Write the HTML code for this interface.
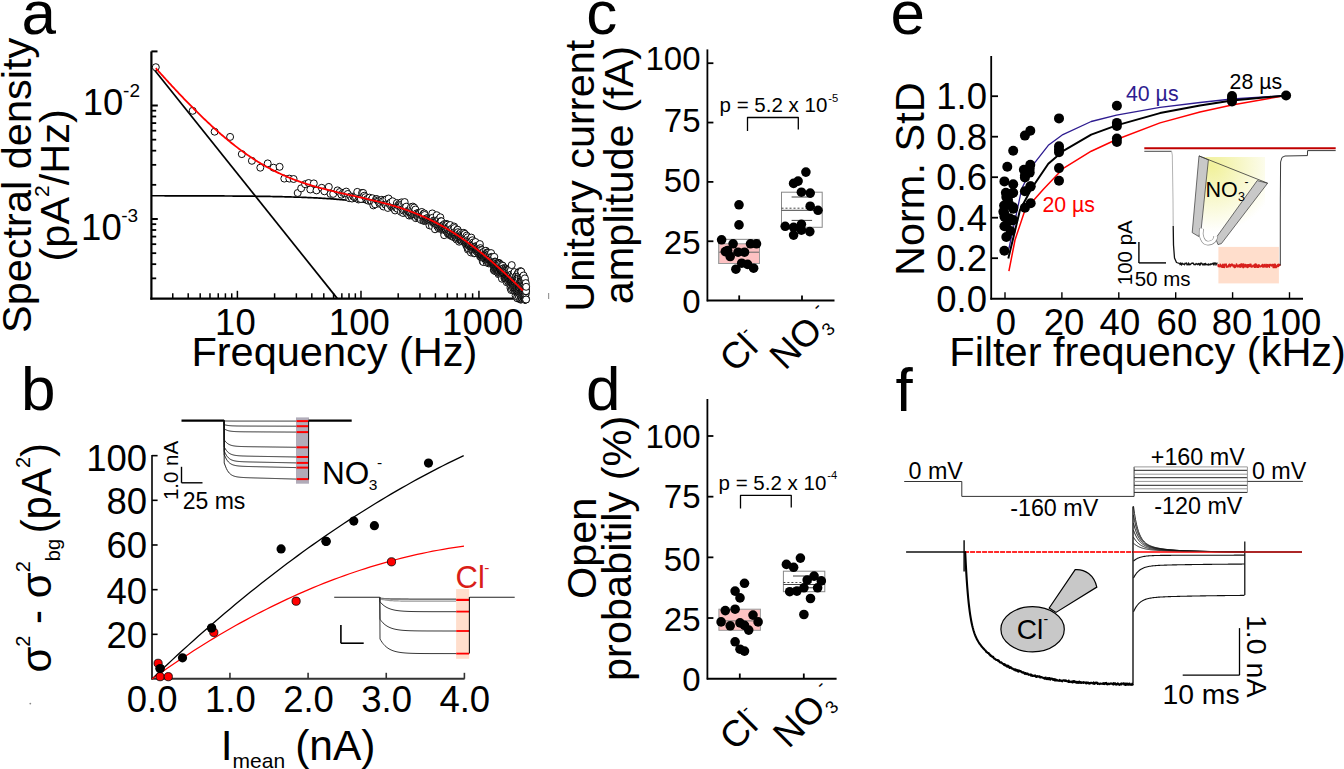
<!DOCTYPE html>
<html><head><meta charset="utf-8"><style>
html,body{margin:0;padding:0;background:#fff;}
svg{display:block;font-family:"Liberation Sans", sans-serif;}
</style></head><body>
<svg width="1344" height="769" viewBox="0 0 1344 769">
<rect width="1344" height="769" fill="#fff"/>
<text x="21.60" y="33.50" font-size="62" text-anchor="start" fill="#000">a</text>
<text x="21.00" y="410.00" font-size="62" text-anchor="start" fill="#000">b</text>
<text x="586.20" y="33.80" font-size="62" text-anchor="start" fill="#000">c</text>
<text x="586.00" y="410.00" font-size="62" text-anchor="start" fill="#000">d</text>
<text x="890.50" y="33.50" font-size="62" text-anchor="start" fill="#000">e</text>
<text x="895.50" y="410.50" font-size="62" text-anchor="start" fill="#000">f</text>
<line x1="151.40" y1="51.40" x2="151.40" y2="299.60" stroke="#000" stroke-width="2.2"/>
<line x1="150.30" y1="298.70" x2="514.50" y2="298.70" stroke="#000" stroke-width="2.2"/>
<line x1="151.40" y1="51.40" x2="157.50" y2="51.40" stroke="#000" stroke-width="2"/>
<line x1="151.40" y1="105.50" x2="157.80" y2="105.50" stroke="#000" stroke-width="2"/>
<line x1="151.40" y1="219.00" x2="157.80" y2="219.00" stroke="#000" stroke-width="2"/>
<line x1="151.40" y1="184.83" x2="156.20" y2="184.83" stroke="#000" stroke-width="1.8"/>
<line x1="151.40" y1="164.85" x2="156.20" y2="164.85" stroke="#000" stroke-width="1.8"/>
<line x1="151.40" y1="150.67" x2="156.20" y2="150.67" stroke="#000" stroke-width="1.8"/>
<line x1="151.40" y1="139.67" x2="156.20" y2="139.67" stroke="#000" stroke-width="1.8"/>
<line x1="151.40" y1="130.68" x2="156.20" y2="130.68" stroke="#000" stroke-width="1.8"/>
<line x1="151.40" y1="123.08" x2="156.20" y2="123.08" stroke="#000" stroke-width="1.8"/>
<line x1="151.40" y1="116.50" x2="156.20" y2="116.50" stroke="#000" stroke-width="1.8"/>
<line x1="151.40" y1="110.69" x2="156.20" y2="110.69" stroke="#000" stroke-width="1.8"/>
<line x1="151.40" y1="278.35" x2="156.20" y2="278.35" stroke="#000" stroke-width="1.8"/>
<line x1="151.40" y1="264.17" x2="156.20" y2="264.17" stroke="#000" stroke-width="1.8"/>
<line x1="151.40" y1="253.17" x2="156.20" y2="253.17" stroke="#000" stroke-width="1.8"/>
<line x1="151.40" y1="244.18" x2="156.20" y2="244.18" stroke="#000" stroke-width="1.8"/>
<line x1="151.40" y1="236.58" x2="156.20" y2="236.58" stroke="#000" stroke-width="1.8"/>
<line x1="151.40" y1="230.00" x2="156.20" y2="230.00" stroke="#000" stroke-width="1.8"/>
<line x1="151.40" y1="224.19" x2="156.20" y2="224.19" stroke="#000" stroke-width="1.8"/>
<line x1="172.76" y1="298.70" x2="172.76" y2="293.30" stroke="#000" stroke-width="1.5"/>
<line x1="188.21" y1="298.70" x2="188.21" y2="293.30" stroke="#000" stroke-width="1.5"/>
<line x1="200.19" y1="298.70" x2="200.19" y2="293.30" stroke="#000" stroke-width="1.5"/>
<line x1="209.97" y1="298.70" x2="209.97" y2="293.30" stroke="#000" stroke-width="1.5"/>
<line x1="218.25" y1="298.70" x2="218.25" y2="293.30" stroke="#000" stroke-width="1.5"/>
<line x1="225.41" y1="298.70" x2="225.41" y2="293.30" stroke="#000" stroke-width="1.5"/>
<line x1="231.74" y1="298.70" x2="231.74" y2="293.30" stroke="#000" stroke-width="1.5"/>
<line x1="274.60" y1="298.70" x2="274.60" y2="293.30" stroke="#000" stroke-width="1.5"/>
<line x1="296.36" y1="298.70" x2="296.36" y2="293.30" stroke="#000" stroke-width="1.5"/>
<line x1="311.81" y1="298.70" x2="311.81" y2="293.30" stroke="#000" stroke-width="1.5"/>
<line x1="323.79" y1="298.70" x2="323.79" y2="293.30" stroke="#000" stroke-width="1.5"/>
<line x1="333.57" y1="298.70" x2="333.57" y2="293.30" stroke="#000" stroke-width="1.5"/>
<line x1="341.85" y1="298.70" x2="341.85" y2="293.30" stroke="#000" stroke-width="1.5"/>
<line x1="349.01" y1="298.70" x2="349.01" y2="293.30" stroke="#000" stroke-width="1.5"/>
<line x1="355.34" y1="298.70" x2="355.34" y2="293.30" stroke="#000" stroke-width="1.5"/>
<line x1="398.20" y1="298.70" x2="398.20" y2="293.30" stroke="#000" stroke-width="1.5"/>
<line x1="419.96" y1="298.70" x2="419.96" y2="293.30" stroke="#000" stroke-width="1.5"/>
<line x1="435.41" y1="298.70" x2="435.41" y2="293.30" stroke="#000" stroke-width="1.5"/>
<line x1="447.39" y1="298.70" x2="447.39" y2="293.30" stroke="#000" stroke-width="1.5"/>
<line x1="457.17" y1="298.70" x2="457.17" y2="293.30" stroke="#000" stroke-width="1.5"/>
<line x1="465.45" y1="298.70" x2="465.45" y2="293.30" stroke="#000" stroke-width="1.5"/>
<line x1="472.61" y1="298.70" x2="472.61" y2="293.30" stroke="#000" stroke-width="1.5"/>
<line x1="237.39" y1="298.70" x2="237.39" y2="290.80" stroke="#000" stroke-width="1.5"/>
<line x1="360.99" y1="298.70" x2="360.99" y2="290.80" stroke="#000" stroke-width="1.5"/>
<line x1="478.94" y1="298.70" x2="478.94" y2="290.80" stroke="#000" stroke-width="1.5"/>
<text x="235.40" y="335.20" font-size="36.5" text-anchor="middle" fill="#000">10</text>
<text x="359.30" y="335.20" font-size="36.5" text-anchor="middle" fill="#000">100</text>
<text x="482.70" y="335.20" font-size="36.5" text-anchor="middle" fill="#000">1000</text>
<text x="191.40" y="365.80" font-size="41.5" text-anchor="start" fill="#000">Frequency (Hz)</text>
<text x="123.40" y="115.30" font-size="36.5" text-anchor="end" fill="#000">10</text>
<text x="123.10" y="96.90" font-size="19" text-anchor="start" fill="#000">-2</text>
<text x="121.70" y="240.30" font-size="36.5" text-anchor="end" fill="#000">10</text>
<text x="121.30" y="222.30" font-size="19" text-anchor="start" fill="#000">-3</text>
<text transform="translate(30.5,333) rotate(-90)" font-size="41.5">Spectral density</text>
<text transform="translate(69.3,261.5) rotate(-90)" font-size="41.5">(pA<tspan font-size="21" dy="-20.3">2</tspan><tspan dy="20.3">/Hz)</tspan></text>
<line x1="152.50" y1="67.50" x2="337.20" y2="298.40" stroke="#000" stroke-width="1.7"/>
<polyline points="152.00,195.76 153.00,195.76 154.00,195.76 155.00,195.76 156.00,195.76 157.00,195.76 158.00,195.77 159.00,195.77 160.00,195.77 161.00,195.77 162.00,195.77 163.00,195.77 164.00,195.77 165.00,195.78 166.00,195.78 167.00,195.78 168.00,195.78 169.00,195.78 170.00,195.78 171.00,195.78 172.00,195.79 173.00,195.79 174.00,195.79 175.00,195.79 176.00,195.79 177.00,195.80 178.00,195.80 179.00,195.80 180.00,195.80 181.00,195.80 182.00,195.81 183.00,195.81 184.00,195.81 185.00,195.81 186.00,195.82 187.00,195.82 188.00,195.82 189.00,195.82 190.00,195.83 191.00,195.83 192.00,195.83 193.00,195.84 194.00,195.84 195.00,195.84 196.00,195.84 197.00,195.85 198.00,195.85 199.00,195.85 200.00,195.86 201.00,195.86 202.00,195.87 203.00,195.87 204.00,195.87 205.00,195.88 206.00,195.88 207.00,195.88 208.00,195.89 209.00,195.89 210.00,195.90 211.00,195.90 212.00,195.91 213.00,195.91 214.00,195.92 215.00,195.92 216.00,195.93 217.00,195.93 218.00,195.94 219.00,195.94 220.00,195.95 221.00,195.95 222.00,195.96 223.00,195.96 224.00,195.97 225.00,195.98 226.00,195.98 227.00,195.99 228.00,196.00 229.00,196.00 230.00,196.01 231.00,196.02 232.00,196.02 233.00,196.03 234.00,196.04 235.00,196.05 236.00,196.05 237.00,196.06 238.00,196.07 239.00,196.08 240.00,196.09 241.00,196.10 242.00,196.11 243.00,196.12 244.00,196.12 245.00,196.13 246.00,196.14 247.00,196.16 248.00,196.17 249.00,196.18 250.00,196.19 251.00,196.20 252.00,196.21 253.00,196.22 254.00,196.23 255.00,196.25 256.00,196.26 257.00,196.27 258.00,196.29 259.00,196.30 260.00,196.31 261.00,196.33 262.00,196.34 263.00,196.36 264.00,196.37 265.00,196.39 266.00,196.40 267.00,196.42 268.00,196.44 269.00,196.45 270.00,196.47 271.00,196.49 272.00,196.51 273.00,196.53 274.00,196.55 275.00,196.57 276.00,196.59 277.00,196.61 278.00,196.63 279.00,196.65 280.00,196.67 281.00,196.69 282.00,196.72 283.00,196.74 284.00,196.76 285.00,196.79 286.00,196.82 287.00,196.84 288.00,196.87 289.00,196.89 290.00,196.92 291.00,196.95 292.00,196.98 293.00,197.01 294.00,197.04 295.00,197.07 296.00,197.10 297.00,197.14 298.00,197.17 299.00,197.20 300.00,197.24 301.00,197.27 302.00,197.31 303.00,197.35 304.00,197.39 305.00,197.43 306.00,197.47 307.00,197.51 308.00,197.55 309.00,197.59 310.00,197.64 311.00,197.68 312.00,197.73 313.00,197.77 314.00,197.82 315.00,197.87 316.00,197.92 317.00,197.97 318.00,198.02 319.00,198.08 320.00,198.13 321.00,198.19 322.00,198.25 323.00,198.31 324.00,198.37 325.00,198.43 326.00,198.49 327.00,198.55 328.00,198.62 329.00,198.69 330.00,198.76 331.00,198.83 332.00,198.90 333.00,198.97 334.00,199.05 335.00,199.12 336.00,199.20 337.00,199.28 338.00,199.36 339.00,199.45 340.00,199.53 341.00,199.62 342.00,199.71 343.00,199.80 344.00,199.89 345.00,199.99 346.00,200.09 347.00,200.19 348.00,200.29 349.00,200.39 350.00,200.50 351.00,200.60 352.00,200.72 353.00,200.83 354.00,200.94 355.00,201.06 356.00,201.18 357.00,201.31 358.00,201.43 359.00,201.56 360.00,201.69 361.00,201.82 362.00,201.96 363.00,202.10 364.00,202.24 365.00,202.39 366.00,202.54 367.00,202.69 368.00,202.84 369.00,203.00 370.00,203.16 371.00,203.32 372.00,203.49 373.00,203.66 374.00,203.84 375.00,204.01 376.00,204.20 377.00,204.38 378.00,204.57 379.00,204.76 380.00,204.96 381.00,205.16 382.00,205.36 383.00,205.57 384.00,205.78 385.00,206.00 386.00,206.22 387.00,206.44 388.00,206.67 389.00,206.90 390.00,207.14 391.00,207.38 392.00,207.63 393.00,207.88 394.00,208.14 395.00,208.40 396.00,208.66 397.00,208.93 398.00,209.21 399.00,209.49 400.00,209.77 401.00,210.06 402.00,210.36 403.00,210.66 404.00,210.96 405.00,211.27 406.00,211.59 407.00,211.91 408.00,212.24 409.00,212.57 410.00,212.91 411.00,213.25 412.00,213.60 413.00,213.96 414.00,214.32 415.00,214.69 416.00,215.06 417.00,215.44 418.00,215.83 419.00,216.22 420.00,216.61 421.00,217.02 422.00,217.43 423.00,217.84 424.00,218.26 425.00,218.69 426.00,219.13 427.00,219.57 428.00,220.02 429.00,220.47 430.00,220.93 431.00,221.40 432.00,221.87 433.00,222.35 434.00,222.84 435.00,223.33 436.00,223.83 437.00,224.34 438.00,224.85 439.00,225.37 440.00,225.90 441.00,226.43 442.00,226.97 443.00,227.52 444.00,228.08 445.00,228.64 446.00,229.20 447.00,229.78 448.00,230.36 449.00,230.95 450.00,231.54 451.00,232.15 452.00,232.75 453.00,233.37 454.00,233.99 455.00,234.62 456.00,235.26 457.00,235.90 458.00,236.55 459.00,237.20 460.00,237.87 461.00,238.53 462.00,239.21 463.00,239.89 464.00,240.58 465.00,241.28 466.00,241.98 467.00,242.69 468.00,243.40 469.00,244.12 470.00,244.85 471.00,245.58 472.00,246.32 473.00,247.07 474.00,247.82 475.00,248.58 476.00,249.35 477.00,250.12 478.00,250.90 479.00,251.68 480.00,252.47 481.00,253.26 482.00,254.06 483.00,254.87 484.00,255.68 485.00,256.50 486.00,257.32 487.00,258.15 488.00,258.99 489.00,259.83 490.00,260.67 491.00,261.52 492.00,262.38 493.00,263.24 494.00,264.11 495.00,264.98 496.00,265.86 497.00,266.74 498.00,267.62 499.00,268.51 500.00,269.41 501.00,270.31 502.00,271.22 503.00,272.13 504.00,273.04 505.00,273.96 506.00,274.88 507.00,275.81 508.00,276.74 509.00,277.68 510.00,278.62 511.00,279.57 512.00,280.52 513.00,281.47 514.00,282.43 515.00,283.39 516.00,284.35 517.00,285.32 518.00,286.29 519.00,287.27 520.00,288.25 521.00,289.23 522.00,290.21" fill="none" stroke="#000" stroke-width="1.7" stroke-linejoin="round"/>
<g fill="#fff" stroke="#000" stroke-width="0.95">
<circle cx="155.80" cy="67.20" r="3.5"/>
<circle cx="192.70" cy="110.80" r="3.5"/>
<circle cx="214.60" cy="131.70" r="3.5"/>
<circle cx="230.10" cy="136.90" r="3.5"/>
<circle cx="241.80" cy="154.10" r="3.5"/>
<circle cx="251.90" cy="160.80" r="3.5"/>
<circle cx="260.30" cy="167.70" r="3.5"/>
<circle cx="267.70" cy="163.40" r="3.5"/>
<circle cx="273.50" cy="167.70" r="3.5"/>
<circle cx="279.60" cy="166.80" r="3.5"/>
<circle cx="284.30" cy="178.60" r="3.5"/>
<circle cx="289.30" cy="178.60" r="3.5"/>
<circle cx="293.60" cy="179.00" r="3.5"/>
<circle cx="297.70" cy="193.00" r="3.5"/>
<circle cx="301.20" cy="188.30" r="3.5"/>
<circle cx="305.10" cy="184.20" r="3.5"/>
<circle cx="308.60" cy="183.00" r="3.5"/>
<circle cx="310.30" cy="189.50" r="3.5"/>
<circle cx="313.80" cy="183.40" r="3.5"/>
<circle cx="316.50" cy="190.40" r="3.5"/>
<circle cx="321.70" cy="187.80" r="3.5"/>
<circle cx="324.40" cy="191.30" r="3.5"/>
<circle cx="328.80" cy="186.90" r="3.5"/>
<circle cx="330.50" cy="193.90" r="3.5"/>
<circle cx="333.20" cy="193.90" r="3.5"/>
<circle cx="337.50" cy="190.40" r="3.5"/>
<circle cx="339.71" cy="192.05" r="3.5"/>
<circle cx="341.42" cy="194.67" r="3.5"/>
<circle cx="343.07" cy="192.90" r="3.5"/>
<circle cx="344.67" cy="193.00" r="3.5"/>
<circle cx="346.23" cy="191.57" r="3.5"/>
<circle cx="347.74" cy="193.98" r="3.5"/>
<circle cx="349.21" cy="198.15" r="3.5"/>
<circle cx="350.64" cy="196.48" r="3.5"/>
<circle cx="352.03" cy="198.56" r="3.5"/>
<circle cx="353.39" cy="196.58" r="3.5"/>
<circle cx="354.72" cy="197.29" r="3.5"/>
<circle cx="356.01" cy="196.97" r="3.5"/>
<circle cx="357.28" cy="191.88" r="3.5"/>
<circle cx="358.51" cy="199.47" r="3.5"/>
<circle cx="359.72" cy="198.73" r="3.5"/>
<circle cx="360.90" cy="198.97" r="3.5"/>
<circle cx="362.05" cy="192.88" r="3.5"/>
<circle cx="363.18" cy="192.98" r="3.5"/>
<circle cx="364.29" cy="195.71" r="3.5"/>
<circle cx="365.37" cy="197.18" r="3.5"/>
<circle cx="366.43" cy="199.66" r="3.5"/>
<circle cx="367.48" cy="198.89" r="3.5"/>
<circle cx="368.50" cy="200.77" r="3.5"/>
<circle cx="369.50" cy="197.63" r="3.5"/>
<circle cx="370.49" cy="200.62" r="3.5"/>
<circle cx="371.46" cy="201.09" r="3.5"/>
<circle cx="372.41" cy="198.26" r="3.5"/>
<circle cx="373.34" cy="205.38" r="3.5"/>
<circle cx="374.26" cy="202.24" r="3.5"/>
<circle cx="375.16" cy="204.32" r="3.5"/>
<circle cx="376.05" cy="199.26" r="3.5"/>
<circle cx="376.92" cy="199.13" r="3.5"/>
<circle cx="377.78" cy="200.50" r="3.5"/>
<circle cx="378.62" cy="201.40" r="3.5"/>
<circle cx="379.46" cy="203.75" r="3.5"/>
<circle cx="380.27" cy="202.85" r="3.5"/>
<circle cx="381.08" cy="201.04" r="3.5"/>
<circle cx="381.88" cy="199.77" r="3.5"/>
<circle cx="382.66" cy="201.24" r="3.5"/>
<circle cx="383.43" cy="206.49" r="3.5"/>
<circle cx="384.19" cy="200.81" r="3.5"/>
<circle cx="384.95" cy="204.06" r="3.5"/>
<circle cx="385.69" cy="204.79" r="3.5"/>
<circle cx="386.42" cy="199.43" r="3.5"/>
<circle cx="387.14" cy="204.09" r="3.5"/>
<circle cx="387.85" cy="207.94" r="3.5"/>
<circle cx="388.55" cy="198.50" r="3.5"/>
<circle cx="389.24" cy="203.61" r="3.5"/>
<circle cx="389.93" cy="204.43" r="3.5"/>
<circle cx="390.60" cy="202.56" r="3.5"/>
<circle cx="391.27" cy="206.56" r="3.5"/>
<circle cx="391.93" cy="205.13" r="3.5"/>
<circle cx="392.58" cy="201.26" r="3.5"/>
<circle cx="393.22" cy="208.09" r="3.5"/>
<circle cx="393.86" cy="207.82" r="3.5"/>
<circle cx="394.48" cy="208.81" r="3.5"/>
<circle cx="395.10" cy="210.44" r="3.5"/>
<circle cx="395.72" cy="207.50" r="3.5"/>
<circle cx="396.32" cy="206.98" r="3.5"/>
<circle cx="396.92" cy="203.05" r="3.5"/>
<circle cx="397.52" cy="208.79" r="3.5"/>
<circle cx="398.10" cy="205.41" r="3.5"/>
<circle cx="398.68" cy="206.06" r="3.5"/>
<circle cx="399.26" cy="203.89" r="3.5"/>
<circle cx="399.83" cy="204.93" r="3.5"/>
<circle cx="400.39" cy="206.38" r="3.5"/>
<circle cx="400.94" cy="211.84" r="3.5"/>
<circle cx="401.49" cy="202.39" r="3.5"/>
<circle cx="402.04" cy="204.24" r="3.5"/>
<circle cx="402.58" cy="209.34" r="3.5"/>
<circle cx="403.11" cy="213.01" r="3.5"/>
<circle cx="403.64" cy="210.68" r="3.5"/>
<circle cx="404.17" cy="203.67" r="3.5"/>
<circle cx="404.68" cy="202.06" r="3.5"/>
<circle cx="405.20" cy="210.57" r="3.5"/>
<circle cx="405.71" cy="207.58" r="3.5"/>
<circle cx="406.21" cy="206.64" r="3.5"/>
<circle cx="406.71" cy="212.90" r="3.5"/>
<circle cx="407.21" cy="213.44" r="3.5"/>
<circle cx="407.70" cy="210.87" r="3.5"/>
<circle cx="408.18" cy="211.30" r="3.5"/>
<circle cx="408.66" cy="212.03" r="3.5"/>
<circle cx="409.14" cy="215.56" r="3.5"/>
<circle cx="409.61" cy="212.91" r="3.5"/>
<circle cx="410.08" cy="212.79" r="3.5"/>
<circle cx="410.55" cy="213.05" r="3.5"/>
<circle cx="411.01" cy="207.08" r="3.5"/>
<circle cx="411.46" cy="215.52" r="3.5"/>
<circle cx="411.92" cy="214.74" r="3.5"/>
<circle cx="412.37" cy="213.68" r="3.5"/>
<circle cx="412.81" cy="206.59" r="3.5"/>
<circle cx="413.25" cy="210.65" r="3.5"/>
<circle cx="413.69" cy="215.10" r="3.5"/>
<circle cx="414.13" cy="207.57" r="3.5"/>
<circle cx="414.56" cy="212.46" r="3.5"/>
<circle cx="414.98" cy="216.12" r="3.5"/>
<circle cx="415.41" cy="209.53" r="3.5"/>
<circle cx="415.83" cy="218.17" r="3.5"/>
<circle cx="416.25" cy="215.27" r="3.5"/>
<circle cx="416.66" cy="213.40" r="3.5"/>
<circle cx="417.07" cy="214.94" r="3.5"/>
<circle cx="417.48" cy="216.05" r="3.5"/>
<circle cx="417.89" cy="214.68" r="3.5"/>
<circle cx="418.29" cy="217.82" r="3.5"/>
<circle cx="418.69" cy="212.75" r="3.5"/>
<circle cx="419.08" cy="213.63" r="3.5"/>
<circle cx="419.48" cy="218.02" r="3.5"/>
<circle cx="419.87" cy="215.24" r="3.5"/>
<circle cx="420.26" cy="212.77" r="3.5"/>
<circle cx="420.64" cy="218.23" r="3.5"/>
<circle cx="421.02" cy="219.90" r="3.5"/>
<circle cx="421.40" cy="214.52" r="3.5"/>
<circle cx="421.78" cy="211.97" r="3.5"/>
<circle cx="422.15" cy="215.75" r="3.5"/>
<circle cx="422.52" cy="215.87" r="3.5"/>
<circle cx="422.89" cy="215.60" r="3.5"/>
<circle cx="423.26" cy="220.70" r="3.5"/>
<circle cx="423.62" cy="213.81" r="3.5"/>
<circle cx="423.98" cy="220.60" r="3.5"/>
<circle cx="424.34" cy="213.43" r="3.5"/>
<circle cx="424.70" cy="214.98" r="3.5"/>
<circle cx="425.05" cy="219.26" r="3.5"/>
<circle cx="425.41" cy="220.86" r="3.5"/>
<circle cx="425.76" cy="220.23" r="3.5"/>
<circle cx="426.10" cy="218.90" r="3.5"/>
<circle cx="426.45" cy="218.47" r="3.5"/>
<circle cx="426.79" cy="218.66" r="3.5"/>
<circle cx="427.13" cy="220.05" r="3.5"/>
<circle cx="427.47" cy="218.02" r="3.5"/>
<circle cx="427.81" cy="219.50" r="3.5"/>
<circle cx="428.14" cy="220.51" r="3.5"/>
<circle cx="428.48" cy="219.01" r="3.5"/>
<circle cx="428.81" cy="221.38" r="3.5"/>
<circle cx="429.13" cy="220.96" r="3.5"/>
<circle cx="429.46" cy="225.31" r="3.5"/>
<circle cx="429.78" cy="220.57" r="3.5"/>
<circle cx="430.11" cy="218.54" r="3.5"/>
<circle cx="430.43" cy="218.86" r="3.5"/>
<circle cx="430.75" cy="220.06" r="3.5"/>
<circle cx="431.06" cy="222.93" r="3.5"/>
<circle cx="431.38" cy="219.43" r="3.5"/>
<circle cx="431.69" cy="221.68" r="3.5"/>
<circle cx="432.00" cy="226.04" r="3.5"/>
<circle cx="432.31" cy="213.43" r="3.5"/>
<circle cx="432.62" cy="217.76" r="3.5"/>
<circle cx="432.92" cy="221.88" r="3.5"/>
<circle cx="433.23" cy="222.48" r="3.5"/>
<circle cx="433.53" cy="222.16" r="3.5"/>
<circle cx="433.83" cy="220.37" r="3.5"/>
<circle cx="434.13" cy="223.68" r="3.5"/>
<circle cx="434.43" cy="222.75" r="3.5"/>
<circle cx="434.72" cy="220.56" r="3.5"/>
<circle cx="435.02" cy="229.28" r="3.5"/>
<circle cx="435.31" cy="223.41" r="3.5"/>
<circle cx="435.60" cy="220.92" r="3.5"/>
<circle cx="435.89" cy="222.39" r="3.5"/>
<circle cx="436.18" cy="222.17" r="3.5"/>
<circle cx="436.47" cy="222.80" r="3.5"/>
<circle cx="436.75" cy="215.21" r="3.5"/>
<circle cx="437.03" cy="221.86" r="3.5"/>
<circle cx="437.31" cy="226.35" r="3.5"/>
<circle cx="437.60" cy="220.18" r="3.5"/>
<circle cx="437.87" cy="223.53" r="3.5"/>
<circle cx="438.15" cy="226.63" r="3.5"/>
<circle cx="438.43" cy="226.50" r="3.5"/>
<circle cx="438.70" cy="228.48" r="3.5"/>
<circle cx="438.98" cy="219.37" r="3.5"/>
<circle cx="439.25" cy="223.43" r="3.5"/>
<circle cx="439.52" cy="223.61" r="3.5"/>
<circle cx="439.79" cy="226.55" r="3.5"/>
<circle cx="440.05" cy="228.06" r="3.5"/>
<circle cx="440.32" cy="217.26" r="3.5"/>
<circle cx="440.59" cy="228.34" r="3.5"/>
<circle cx="440.85" cy="221.13" r="3.5"/>
<circle cx="441.11" cy="227.45" r="3.5"/>
<circle cx="441.37" cy="221.29" r="3.5"/>
<circle cx="441.63" cy="226.27" r="3.5"/>
<circle cx="441.89" cy="229.37" r="3.5"/>
<circle cx="442.15" cy="225.61" r="3.5"/>
<circle cx="442.41" cy="226.74" r="3.5"/>
<circle cx="442.66" cy="228.65" r="3.5"/>
<circle cx="442.91" cy="226.89" r="3.5"/>
<circle cx="443.17" cy="226.36" r="3.5"/>
<circle cx="443.42" cy="231.21" r="3.5"/>
<circle cx="443.67" cy="229.94" r="3.5"/>
<circle cx="443.92" cy="226.19" r="3.5"/>
<circle cx="444.17" cy="235.15" r="3.5"/>
<circle cx="444.41" cy="224.00" r="3.5"/>
<circle cx="444.66" cy="230.12" r="3.5"/>
<circle cx="444.90" cy="226.84" r="3.5"/>
<circle cx="445.15" cy="228.13" r="3.5"/>
<circle cx="445.39" cy="229.93" r="3.5"/>
<circle cx="445.63" cy="228.67" r="3.5"/>
<circle cx="445.87" cy="230.02" r="3.5"/>
<circle cx="446.11" cy="223.88" r="3.5"/>
<circle cx="446.35" cy="224.07" r="3.5"/>
<circle cx="446.58" cy="230.37" r="3.5"/>
<circle cx="446.82" cy="225.93" r="3.5"/>
<circle cx="447.05" cy="225.89" r="3.5"/>
<circle cx="447.29" cy="224.74" r="3.5"/>
<circle cx="447.52" cy="232.81" r="3.5"/>
<circle cx="447.75" cy="231.44" r="3.5"/>
<circle cx="447.98" cy="233.69" r="3.5"/>
<circle cx="448.21" cy="226.83" r="3.5"/>
<circle cx="448.44" cy="229.69" r="3.5"/>
<circle cx="448.67" cy="226.52" r="3.5"/>
<circle cx="448.90" cy="232.19" r="3.5"/>
<circle cx="449.12" cy="234.71" r="3.5"/>
<circle cx="449.35" cy="227.65" r="3.5"/>
<circle cx="449.57" cy="234.90" r="3.5"/>
<circle cx="449.80" cy="233.37" r="3.5"/>
<circle cx="450.02" cy="230.13" r="3.5"/>
<circle cx="450.24" cy="225.06" r="3.5"/>
<circle cx="450.46" cy="234.99" r="3.5"/>
<circle cx="450.68" cy="230.77" r="3.5"/>
<circle cx="450.90" cy="229.43" r="3.5"/>
<circle cx="451.12" cy="232.48" r="3.5"/>
<circle cx="451.33" cy="232.64" r="3.5"/>
<circle cx="451.55" cy="235.93" r="3.5"/>
<circle cx="451.76" cy="228.76" r="3.5"/>
<circle cx="451.98" cy="235.15" r="3.5"/>
<circle cx="452.19" cy="236.30" r="3.5"/>
<circle cx="452.40" cy="236.33" r="3.5"/>
<circle cx="452.62" cy="231.73" r="3.5"/>
<circle cx="452.83" cy="230.22" r="3.5"/>
<circle cx="453.04" cy="235.47" r="3.5"/>
<circle cx="453.25" cy="232.98" r="3.5"/>
<circle cx="453.46" cy="233.14" r="3.5"/>
<circle cx="453.66" cy="237.04" r="3.5"/>
<circle cx="453.87" cy="232.28" r="3.5"/>
<circle cx="454.08" cy="226.51" r="3.5"/>
<circle cx="454.28" cy="232.18" r="3.5"/>
<circle cx="454.49" cy="228.06" r="3.5"/>
<circle cx="454.69" cy="235.94" r="3.5"/>
<circle cx="454.89" cy="234.61" r="3.5"/>
<circle cx="455.09" cy="232.05" r="3.5"/>
<circle cx="455.30" cy="233.92" r="3.5"/>
<circle cx="455.50" cy="236.50" r="3.5"/>
<circle cx="455.70" cy="234.44" r="3.5"/>
<circle cx="455.90" cy="238.19" r="3.5"/>
<circle cx="456.09" cy="234.29" r="3.5"/>
<circle cx="456.29" cy="237.61" r="3.5"/>
<circle cx="456.49" cy="239.05" r="3.5"/>
<circle cx="456.69" cy="239.52" r="3.5"/>
<circle cx="456.88" cy="233.03" r="3.5"/>
<circle cx="457.08" cy="237.66" r="3.5"/>
<circle cx="457.27" cy="229.79" r="3.5"/>
<circle cx="457.46" cy="232.22" r="3.5"/>
<circle cx="457.66" cy="229.80" r="3.5"/>
<circle cx="457.85" cy="238.72" r="3.5"/>
<circle cx="458.04" cy="232.17" r="3.5"/>
<circle cx="458.23" cy="235.83" r="3.5"/>
<circle cx="458.42" cy="235.44" r="3.5"/>
<circle cx="458.61" cy="236.04" r="3.5"/>
<circle cx="458.80" cy="234.53" r="3.5"/>
<circle cx="458.99" cy="237.05" r="3.5"/>
<circle cx="459.17" cy="241.69" r="3.5"/>
<circle cx="459.36" cy="236.75" r="3.5"/>
<circle cx="459.55" cy="238.29" r="3.5"/>
<circle cx="459.73" cy="239.77" r="3.5"/>
<circle cx="459.92" cy="236.42" r="3.5"/>
<circle cx="460.10" cy="233.47" r="3.5"/>
<circle cx="460.28" cy="235.63" r="3.5"/>
<circle cx="460.47" cy="240.48" r="3.5"/>
<circle cx="460.65" cy="232.72" r="3.5"/>
<circle cx="460.83" cy="235.88" r="3.5"/>
<circle cx="461.01" cy="240.66" r="3.5"/>
<circle cx="461.19" cy="240.16" r="3.5"/>
<circle cx="461.37" cy="238.01" r="3.5"/>
<circle cx="461.55" cy="240.44" r="3.5"/>
<circle cx="461.73" cy="238.71" r="3.5"/>
<circle cx="461.91" cy="234.93" r="3.5"/>
<circle cx="462.09" cy="233.94" r="3.5"/>
<circle cx="462.26" cy="236.74" r="3.5"/>
<circle cx="462.44" cy="241.39" r="3.5"/>
<circle cx="462.61" cy="237.20" r="3.5"/>
<circle cx="462.79" cy="236.34" r="3.5"/>
<circle cx="462.96" cy="236.85" r="3.5"/>
<circle cx="463.14" cy="234.76" r="3.5"/>
<circle cx="463.31" cy="238.98" r="3.5"/>
<circle cx="463.48" cy="236.02" r="3.5"/>
<circle cx="463.66" cy="240.62" r="3.5"/>
<circle cx="463.83" cy="232.84" r="3.5"/>
<circle cx="464.00" cy="240.75" r="3.5"/>
<circle cx="464.17" cy="238.06" r="3.5"/>
<circle cx="464.34" cy="234.41" r="3.5"/>
<circle cx="464.51" cy="242.26" r="3.5"/>
<circle cx="464.68" cy="239.48" r="3.5"/>
<circle cx="464.85" cy="233.93" r="3.5"/>
<circle cx="465.02" cy="237.98" r="3.5"/>
<circle cx="465.18" cy="241.48" r="3.5"/>
<circle cx="465.35" cy="239.42" r="3.5"/>
<circle cx="465.52" cy="243.13" r="3.5"/>
<circle cx="465.68" cy="243.16" r="3.5"/>
<circle cx="465.85" cy="243.04" r="3.5"/>
<circle cx="466.01" cy="242.17" r="3.5"/>
<circle cx="466.18" cy="245.21" r="3.5"/>
<circle cx="466.34" cy="243.37" r="3.5"/>
<circle cx="466.50" cy="242.88" r="3.5"/>
<circle cx="466.67" cy="235.65" r="3.5"/>
<circle cx="466.83" cy="244.41" r="3.5"/>
<circle cx="466.99" cy="245.72" r="3.5"/>
<circle cx="467.15" cy="241.18" r="3.5"/>
<circle cx="467.31" cy="240.80" r="3.5"/>
<circle cx="467.47" cy="247.90" r="3.5"/>
<circle cx="467.63" cy="237.29" r="3.5"/>
<circle cx="467.79" cy="243.86" r="3.5"/>
<circle cx="467.95" cy="249.65" r="3.5"/>
<circle cx="468.11" cy="240.05" r="3.5"/>
<circle cx="468.27" cy="244.85" r="3.5"/>
<circle cx="468.43" cy="248.44" r="3.5"/>
<circle cx="468.58" cy="242.73" r="3.5"/>
<circle cx="468.74" cy="244.82" r="3.5"/>
<circle cx="468.90" cy="245.93" r="3.5"/>
<circle cx="469.05" cy="240.80" r="3.5"/>
<circle cx="469.21" cy="243.28" r="3.5"/>
<circle cx="469.36" cy="244.50" r="3.5"/>
<circle cx="469.52" cy="246.16" r="3.5"/>
<circle cx="469.67" cy="243.78" r="3.5"/>
<circle cx="469.83" cy="243.42" r="3.5"/>
<circle cx="469.98" cy="241.16" r="3.5"/>
<circle cx="470.13" cy="243.17" r="3.5"/>
<circle cx="470.28" cy="246.91" r="3.5"/>
<circle cx="470.44" cy="244.73" r="3.5"/>
<circle cx="470.59" cy="242.08" r="3.5"/>
<circle cx="470.74" cy="242.22" r="3.5"/>
<circle cx="470.89" cy="252.51" r="3.5"/>
<circle cx="471.04" cy="248.19" r="3.5"/>
<circle cx="471.19" cy="246.85" r="3.5"/>
<circle cx="471.34" cy="237.59" r="3.5"/>
<circle cx="471.49" cy="247.02" r="3.5"/>
<circle cx="471.64" cy="246.73" r="3.5"/>
<circle cx="471.78" cy="250.33" r="3.5"/>
<circle cx="471.93" cy="246.79" r="3.5"/>
<circle cx="472.08" cy="245.47" r="3.5"/>
<circle cx="472.23" cy="247.29" r="3.5"/>
<circle cx="472.37" cy="240.25" r="3.5"/>
<circle cx="472.52" cy="248.99" r="3.5"/>
<circle cx="472.66" cy="247.05" r="3.5"/>
<circle cx="472.81" cy="244.18" r="3.5"/>
<circle cx="472.95" cy="250.17" r="3.5"/>
<circle cx="473.10" cy="251.68" r="3.5"/>
<circle cx="473.24" cy="242.48" r="3.5"/>
<circle cx="473.39" cy="244.72" r="3.5"/>
<circle cx="473.53" cy="247.60" r="3.5"/>
<circle cx="473.67" cy="247.40" r="3.5"/>
<circle cx="473.81" cy="245.82" r="3.5"/>
<circle cx="473.96" cy="244.26" r="3.5"/>
<circle cx="474.10" cy="253.34" r="3.5"/>
<circle cx="474.24" cy="250.31" r="3.5"/>
<circle cx="474.38" cy="243.95" r="3.5"/>
<circle cx="474.52" cy="243.62" r="3.5"/>
<circle cx="474.66" cy="252.56" r="3.5"/>
<circle cx="474.80" cy="250.60" r="3.5"/>
<circle cx="474.94" cy="253.12" r="3.5"/>
<circle cx="475.08" cy="250.29" r="3.5"/>
<circle cx="475.22" cy="245.52" r="3.5"/>
<circle cx="475.36" cy="248.91" r="3.5"/>
<circle cx="475.50" cy="242.00" r="3.5"/>
<circle cx="475.63" cy="246.20" r="3.5"/>
<circle cx="475.77" cy="248.31" r="3.5"/>
<circle cx="475.91" cy="250.10" r="3.5"/>
<circle cx="476.05" cy="246.58" r="3.5"/>
<circle cx="476.18" cy="248.44" r="3.5"/>
<circle cx="476.32" cy="250.23" r="3.5"/>
<circle cx="476.45" cy="250.10" r="3.5"/>
<circle cx="476.59" cy="250.96" r="3.5"/>
<circle cx="476.72" cy="249.82" r="3.5"/>
<circle cx="476.86" cy="248.38" r="3.5"/>
<circle cx="476.99" cy="251.72" r="3.5"/>
<circle cx="477.13" cy="249.67" r="3.5"/>
<circle cx="477.26" cy="247.24" r="3.5"/>
<circle cx="477.39" cy="247.92" r="3.5"/>
<circle cx="477.53" cy="249.84" r="3.5"/>
<circle cx="477.66" cy="249.63" r="3.5"/>
<circle cx="477.79" cy="250.51" r="3.5"/>
<circle cx="477.92" cy="250.15" r="3.5"/>
<circle cx="478.06" cy="250.77" r="3.5"/>
<circle cx="478.19" cy="249.97" r="3.5"/>
<circle cx="478.32" cy="246.82" r="3.5"/>
<circle cx="478.45" cy="251.79" r="3.5"/>
<circle cx="478.58" cy="253.73" r="3.5"/>
<circle cx="478.71" cy="252.03" r="3.5"/>
<circle cx="478.84" cy="250.33" r="3.5"/>
<circle cx="478.97" cy="252.27" r="3.5"/>
<circle cx="479.10" cy="248.28" r="3.5"/>
<circle cx="479.23" cy="245.69" r="3.5"/>
<circle cx="479.36" cy="251.46" r="3.5"/>
<circle cx="479.48" cy="248.69" r="3.5"/>
<circle cx="479.61" cy="253.64" r="3.5"/>
<circle cx="479.74" cy="248.45" r="3.5"/>
<circle cx="479.87" cy="244.07" r="3.5"/>
<circle cx="479.99" cy="248.78" r="3.5"/>
<circle cx="480.12" cy="256.47" r="3.5"/>
<circle cx="480.25" cy="250.89" r="3.5"/>
<circle cx="480.37" cy="248.13" r="3.5"/>
<circle cx="480.50" cy="249.98" r="3.5"/>
<circle cx="480.63" cy="253.81" r="3.5"/>
<circle cx="480.75" cy="253.84" r="3.5"/>
<circle cx="480.88" cy="253.01" r="3.5"/>
<circle cx="481.00" cy="256.90" r="3.5"/>
<circle cx="481.12" cy="254.75" r="3.5"/>
<circle cx="481.25" cy="252.74" r="3.5"/>
<circle cx="481.37" cy="254.63" r="3.5"/>
<circle cx="481.50" cy="257.80" r="3.5"/>
<circle cx="481.62" cy="255.91" r="3.5"/>
<circle cx="481.74" cy="256.17" r="3.5"/>
<circle cx="481.87" cy="250.16" r="3.5"/>
<circle cx="481.99" cy="252.96" r="3.5"/>
<circle cx="482.11" cy="255.61" r="3.5"/>
<circle cx="482.23" cy="252.73" r="3.5"/>
<circle cx="482.35" cy="256.79" r="3.5"/>
<circle cx="482.47" cy="255.52" r="3.5"/>
<circle cx="482.60" cy="256.52" r="3.5"/>
<circle cx="482.72" cy="253.37" r="3.5"/>
<circle cx="482.84" cy="261.47" r="3.5"/>
<circle cx="482.96" cy="257.78" r="3.5"/>
<circle cx="483.08" cy="253.65" r="3.5"/>
<circle cx="483.20" cy="254.64" r="3.5"/>
<circle cx="483.32" cy="262.00" r="3.5"/>
<circle cx="483.44" cy="253.58" r="3.5"/>
<circle cx="483.55" cy="257.20" r="3.5"/>
<circle cx="483.67" cy="257.61" r="3.5"/>
<circle cx="483.79" cy="254.88" r="3.5"/>
<circle cx="483.91" cy="251.57" r="3.5"/>
<circle cx="484.03" cy="255.60" r="3.5"/>
<circle cx="484.14" cy="256.19" r="3.5"/>
<circle cx="484.26" cy="258.53" r="3.5"/>
<circle cx="484.38" cy="257.62" r="3.5"/>
<circle cx="484.50" cy="255.51" r="3.5"/>
<circle cx="484.61" cy="258.01" r="3.5"/>
<circle cx="484.73" cy="257.20" r="3.5"/>
<circle cx="484.84" cy="256.33" r="3.5"/>
<circle cx="484.96" cy="255.98" r="3.5"/>
<circle cx="485.08" cy="255.21" r="3.5"/>
<circle cx="485.19" cy="258.01" r="3.5"/>
<circle cx="485.31" cy="253.05" r="3.5"/>
<circle cx="485.42" cy="254.38" r="3.5"/>
<circle cx="485.54" cy="256.31" r="3.5"/>
<circle cx="485.65" cy="252.15" r="3.5"/>
<circle cx="485.76" cy="255.23" r="3.5"/>
<circle cx="485.88" cy="250.76" r="3.5"/>
<circle cx="485.99" cy="254.70" r="3.5"/>
<circle cx="486.11" cy="258.42" r="3.5"/>
<circle cx="486.22" cy="258.51" r="3.5"/>
<circle cx="486.33" cy="256.80" r="3.5"/>
<circle cx="486.44" cy="256.38" r="3.5"/>
<circle cx="486.56" cy="253.04" r="3.5"/>
<circle cx="486.67" cy="262.54" r="3.5"/>
<circle cx="486.78" cy="258.83" r="3.5"/>
<circle cx="486.89" cy="260.60" r="3.5"/>
<circle cx="487.00" cy="254.96" r="3.5"/>
<circle cx="487.11" cy="257.08" r="3.5"/>
<circle cx="487.23" cy="252.43" r="3.5"/>
<circle cx="487.34" cy="260.06" r="3.5"/>
<circle cx="487.45" cy="260.61" r="3.5"/>
<circle cx="487.56" cy="252.48" r="3.5"/>
<circle cx="487.67" cy="257.93" r="3.5"/>
<circle cx="487.78" cy="260.00" r="3.5"/>
<circle cx="487.89" cy="253.15" r="3.5"/>
<circle cx="488.00" cy="253.06" r="3.5"/>
<circle cx="488.11" cy="255.36" r="3.5"/>
<circle cx="488.21" cy="256.72" r="3.5"/>
<circle cx="488.32" cy="254.56" r="3.5"/>
<circle cx="488.43" cy="258.82" r="3.5"/>
<circle cx="488.54" cy="259.54" r="3.5"/>
<circle cx="488.65" cy="260.74" r="3.5"/>
<circle cx="488.76" cy="261.03" r="3.5"/>
<circle cx="488.86" cy="263.45" r="3.5"/>
<circle cx="488.97" cy="262.56" r="3.5"/>
<circle cx="489.08" cy="255.47" r="3.5"/>
<circle cx="489.19" cy="257.90" r="3.5"/>
<circle cx="489.29" cy="256.38" r="3.5"/>
<circle cx="489.40" cy="256.42" r="3.5"/>
<circle cx="489.51" cy="259.40" r="3.5"/>
<circle cx="489.61" cy="259.74" r="3.5"/>
<circle cx="489.72" cy="261.24" r="3.5"/>
<circle cx="489.82" cy="255.30" r="3.5"/>
<circle cx="489.93" cy="256.40" r="3.5"/>
<circle cx="490.03" cy="260.02" r="3.5"/>
<circle cx="490.14" cy="259.59" r="3.5"/>
<circle cx="490.24" cy="259.36" r="3.5"/>
<circle cx="490.35" cy="260.17" r="3.5"/>
<circle cx="490.45" cy="258.24" r="3.5"/>
<circle cx="490.56" cy="262.56" r="3.5"/>
<circle cx="490.66" cy="261.65" r="3.5"/>
<circle cx="490.77" cy="260.45" r="3.5"/>
<circle cx="490.87" cy="258.85" r="3.5"/>
<circle cx="490.97" cy="260.38" r="3.5"/>
<circle cx="491.08" cy="253.08" r="3.5"/>
<circle cx="491.18" cy="258.22" r="3.5"/>
<circle cx="491.28" cy="261.26" r="3.5"/>
<circle cx="491.39" cy="256.88" r="3.5"/>
<circle cx="491.49" cy="261.91" r="3.5"/>
<circle cx="491.59" cy="261.84" r="3.5"/>
<circle cx="491.69" cy="257.51" r="3.5"/>
<circle cx="491.79" cy="260.87" r="3.5"/>
<circle cx="491.90" cy="260.77" r="3.5"/>
<circle cx="492.00" cy="263.10" r="3.5"/>
<circle cx="492.10" cy="263.63" r="3.5"/>
<circle cx="492.20" cy="261.84" r="3.5"/>
<circle cx="492.30" cy="259.56" r="3.5"/>
<circle cx="492.40" cy="261.70" r="3.5"/>
<circle cx="492.50" cy="262.01" r="3.5"/>
<circle cx="492.60" cy="264.42" r="3.5"/>
<circle cx="492.70" cy="263.23" r="3.5"/>
<circle cx="492.80" cy="260.37" r="3.5"/>
<circle cx="492.90" cy="258.62" r="3.5"/>
<circle cx="493.00" cy="261.56" r="3.5"/>
<circle cx="493.10" cy="260.58" r="3.5"/>
<circle cx="493.20" cy="259.59" r="3.5"/>
<circle cx="493.30" cy="262.56" r="3.5"/>
<circle cx="493.40" cy="261.56" r="3.5"/>
<circle cx="493.50" cy="263.37" r="3.5"/>
<circle cx="493.60" cy="264.67" r="3.5"/>
<circle cx="493.70" cy="262.04" r="3.5"/>
<circle cx="493.79" cy="270.07" r="3.5"/>
<circle cx="493.89" cy="262.48" r="3.5"/>
<circle cx="493.99" cy="266.69" r="3.5"/>
<circle cx="494.09" cy="263.93" r="3.5"/>
<circle cx="494.19" cy="266.90" r="3.5"/>
<circle cx="494.28" cy="256.86" r="3.5"/>
<circle cx="494.38" cy="261.66" r="3.5"/>
<circle cx="494.48" cy="264.64" r="3.5"/>
<circle cx="494.57" cy="265.75" r="3.5"/>
<circle cx="494.67" cy="270.87" r="3.5"/>
<circle cx="494.77" cy="265.11" r="3.5"/>
<circle cx="494.86" cy="267.97" r="3.5"/>
<circle cx="494.96" cy="266.57" r="3.5"/>
<circle cx="495.06" cy="267.18" r="3.5"/>
<circle cx="495.15" cy="265.99" r="3.5"/>
<circle cx="495.25" cy="264.14" r="3.5"/>
<circle cx="495.34" cy="266.16" r="3.5"/>
<circle cx="495.44" cy="261.64" r="3.5"/>
<circle cx="495.53" cy="268.27" r="3.5"/>
<circle cx="495.63" cy="261.98" r="3.5"/>
<circle cx="495.72" cy="265.74" r="3.5"/>
<circle cx="495.82" cy="271.25" r="3.5"/>
<circle cx="495.91" cy="264.53" r="3.5"/>
<circle cx="496.01" cy="265.32" r="3.5"/>
<circle cx="496.10" cy="268.72" r="3.5"/>
<circle cx="496.19" cy="265.51" r="3.5"/>
<circle cx="496.29" cy="263.17" r="3.5"/>
<circle cx="496.38" cy="266.35" r="3.5"/>
<circle cx="496.47" cy="267.37" r="3.5"/>
<circle cx="496.57" cy="267.82" r="3.5"/>
<circle cx="496.66" cy="263.61" r="3.5"/>
<circle cx="496.75" cy="271.01" r="3.5"/>
<circle cx="496.85" cy="270.84" r="3.5"/>
<circle cx="496.94" cy="266.15" r="3.5"/>
<circle cx="497.03" cy="266.95" r="3.5"/>
<circle cx="497.12" cy="265.01" r="3.5"/>
<circle cx="497.22" cy="270.44" r="3.5"/>
<circle cx="497.31" cy="264.38" r="3.5"/>
<circle cx="497.40" cy="268.46" r="3.5"/>
<circle cx="497.49" cy="265.19" r="3.5"/>
<circle cx="497.58" cy="264.65" r="3.5"/>
<circle cx="497.67" cy="268.83" r="3.5"/>
<circle cx="497.77" cy="270.70" r="3.5"/>
<circle cx="497.86" cy="266.88" r="3.5"/>
<circle cx="497.95" cy="265.03" r="3.5"/>
<circle cx="498.04" cy="269.42" r="3.5"/>
<circle cx="498.13" cy="267.01" r="3.5"/>
<circle cx="498.22" cy="268.13" r="3.5"/>
<circle cx="498.31" cy="271.73" r="3.5"/>
<circle cx="498.40" cy="270.68" r="3.5"/>
<circle cx="498.49" cy="265.97" r="3.5"/>
<circle cx="498.58" cy="274.18" r="3.5"/>
<circle cx="498.67" cy="267.65" r="3.5"/>
<circle cx="498.76" cy="270.00" r="3.5"/>
<circle cx="498.85" cy="265.92" r="3.5"/>
<circle cx="498.94" cy="267.75" r="3.5"/>
<circle cx="499.03" cy="262.88" r="3.5"/>
<circle cx="499.12" cy="273.22" r="3.5"/>
<circle cx="499.20" cy="272.08" r="3.5"/>
<circle cx="499.29" cy="264.67" r="3.5"/>
<circle cx="499.38" cy="263.91" r="3.5"/>
<circle cx="499.47" cy="263.65" r="3.5"/>
<circle cx="499.56" cy="271.84" r="3.5"/>
<circle cx="499.65" cy="267.18" r="3.5"/>
<circle cx="499.73" cy="268.42" r="3.5"/>
<circle cx="499.82" cy="267.76" r="3.5"/>
<circle cx="499.91" cy="268.40" r="3.5"/>
<circle cx="500.00" cy="265.67" r="3.5"/>
<circle cx="500.08" cy="268.98" r="3.5"/>
<circle cx="500.17" cy="264.82" r="3.5"/>
<circle cx="500.26" cy="268.86" r="3.5"/>
<circle cx="500.35" cy="270.04" r="3.5"/>
<circle cx="500.43" cy="270.58" r="3.5"/>
<circle cx="500.52" cy="268.63" r="3.5"/>
<circle cx="500.61" cy="266.76" r="3.5"/>
<circle cx="500.69" cy="269.92" r="3.5"/>
<circle cx="500.78" cy="268.13" r="3.5"/>
<circle cx="500.86" cy="274.15" r="3.5"/>
<circle cx="500.95" cy="271.92" r="3.5"/>
<circle cx="501.04" cy="269.43" r="3.5"/>
<circle cx="501.12" cy="268.48" r="3.5"/>
<circle cx="501.21" cy="267.89" r="3.5"/>
<circle cx="501.29" cy="267.28" r="3.5"/>
<circle cx="501.38" cy="269.06" r="3.5"/>
<circle cx="501.46" cy="271.01" r="3.5"/>
<circle cx="501.55" cy="271.73" r="3.5"/>
<circle cx="501.63" cy="271.96" r="3.5"/>
<circle cx="501.72" cy="276.47" r="3.5"/>
<circle cx="501.80" cy="268.42" r="3.5"/>
<circle cx="501.89" cy="270.58" r="3.5"/>
<circle cx="501.97" cy="278.72" r="3.5"/>
<circle cx="502.05" cy="265.28" r="3.5"/>
<circle cx="502.14" cy="269.26" r="3.5"/>
<circle cx="502.22" cy="271.34" r="3.5"/>
<circle cx="502.31" cy="271.37" r="3.5"/>
<circle cx="502.39" cy="272.18" r="3.5"/>
<circle cx="502.47" cy="270.39" r="3.5"/>
<circle cx="502.56" cy="272.22" r="3.5"/>
<circle cx="502.64" cy="271.38" r="3.5"/>
<circle cx="502.72" cy="273.54" r="3.5"/>
<circle cx="502.81" cy="265.89" r="3.5"/>
<circle cx="502.89" cy="268.89" r="3.5"/>
<circle cx="502.97" cy="271.53" r="3.5"/>
<circle cx="503.06" cy="268.62" r="3.5"/>
<circle cx="503.14" cy="268.66" r="3.5"/>
<circle cx="503.22" cy="273.58" r="3.5"/>
<circle cx="503.30" cy="269.95" r="3.5"/>
<circle cx="503.38" cy="273.75" r="3.5"/>
<circle cx="503.47" cy="274.15" r="3.5"/>
<circle cx="503.55" cy="272.95" r="3.5"/>
<circle cx="503.63" cy="273.61" r="3.5"/>
<circle cx="503.71" cy="271.91" r="3.5"/>
<circle cx="503.79" cy="268.20" r="3.5"/>
<circle cx="503.87" cy="272.27" r="3.5"/>
<circle cx="503.96" cy="273.75" r="3.5"/>
<circle cx="504.04" cy="270.98" r="3.5"/>
<circle cx="504.12" cy="272.30" r="3.5"/>
<circle cx="504.20" cy="274.83" r="3.5"/>
<circle cx="504.28" cy="270.19" r="3.5"/>
<circle cx="504.36" cy="274.67" r="3.5"/>
<circle cx="504.44" cy="278.28" r="3.5"/>
<circle cx="504.52" cy="271.35" r="3.5"/>
<circle cx="504.60" cy="273.46" r="3.5"/>
<circle cx="504.68" cy="272.67" r="3.5"/>
<circle cx="504.76" cy="277.65" r="3.5"/>
<circle cx="504.84" cy="274.17" r="3.5"/>
<circle cx="504.92" cy="275.93" r="3.5"/>
<circle cx="505.00" cy="271.40" r="3.5"/>
<circle cx="505.08" cy="273.43" r="3.5"/>
<circle cx="505.16" cy="273.52" r="3.5"/>
<circle cx="505.24" cy="268.39" r="3.5"/>
<circle cx="505.32" cy="277.97" r="3.5"/>
<circle cx="505.40" cy="276.45" r="3.5"/>
<circle cx="505.48" cy="268.60" r="3.5"/>
<circle cx="505.56" cy="276.16" r="3.5"/>
<circle cx="505.63" cy="273.59" r="3.5"/>
<circle cx="505.71" cy="275.42" r="3.5"/>
<circle cx="505.79" cy="275.25" r="3.5"/>
<circle cx="505.87" cy="269.60" r="3.5"/>
<circle cx="505.95" cy="273.62" r="3.5"/>
<circle cx="506.03" cy="278.99" r="3.5"/>
<circle cx="506.11" cy="272.63" r="3.5"/>
<circle cx="506.18" cy="271.29" r="3.5"/>
<circle cx="506.26" cy="270.28" r="3.5"/>
<circle cx="506.34" cy="270.77" r="3.5"/>
<circle cx="506.42" cy="275.78" r="3.5"/>
<circle cx="506.49" cy="280.20" r="3.5"/>
<circle cx="506.57" cy="276.24" r="3.5"/>
<circle cx="506.65" cy="275.72" r="3.5"/>
<circle cx="506.73" cy="282.25" r="3.5"/>
<circle cx="506.80" cy="273.38" r="3.5"/>
<circle cx="506.88" cy="272.94" r="3.5"/>
<circle cx="506.96" cy="276.96" r="3.5"/>
<circle cx="507.03" cy="277.10" r="3.5"/>
<circle cx="507.11" cy="271.99" r="3.5"/>
<circle cx="507.19" cy="271.53" r="3.5"/>
<circle cx="507.26" cy="276.48" r="3.5"/>
<circle cx="507.34" cy="276.41" r="3.5"/>
<circle cx="507.42" cy="271.22" r="3.5"/>
<circle cx="507.49" cy="275.03" r="3.5"/>
<circle cx="507.57" cy="273.94" r="3.5"/>
<circle cx="507.64" cy="277.44" r="3.5"/>
<circle cx="507.72" cy="275.53" r="3.5"/>
<circle cx="507.79" cy="275.70" r="3.5"/>
<circle cx="507.87" cy="274.84" r="3.5"/>
<circle cx="507.95" cy="279.82" r="3.5"/>
<circle cx="508.02" cy="281.09" r="3.5"/>
<circle cx="508.10" cy="274.99" r="3.5"/>
<circle cx="508.17" cy="279.34" r="3.5"/>
<circle cx="508.25" cy="273.73" r="3.5"/>
<circle cx="508.32" cy="276.75" r="3.5"/>
<circle cx="508.40" cy="279.25" r="3.5"/>
<circle cx="508.47" cy="282.08" r="3.5"/>
<circle cx="508.55" cy="275.32" r="3.5"/>
<circle cx="508.62" cy="276.51" r="3.5"/>
<circle cx="508.69" cy="277.56" r="3.5"/>
<circle cx="508.77" cy="271.44" r="3.5"/>
<circle cx="508.84" cy="277.04" r="3.5"/>
<circle cx="508.92" cy="274.56" r="3.5"/>
<circle cx="508.99" cy="278.50" r="3.5"/>
<circle cx="509.06" cy="273.00" r="3.5"/>
<circle cx="509.14" cy="269.89" r="3.5"/>
<circle cx="509.21" cy="277.48" r="3.5"/>
<circle cx="509.29" cy="278.38" r="3.5"/>
<circle cx="509.36" cy="275.40" r="3.5"/>
<circle cx="509.43" cy="280.91" r="3.5"/>
<circle cx="509.51" cy="276.57" r="3.5"/>
<circle cx="509.58" cy="275.37" r="3.5"/>
<circle cx="509.65" cy="279.58" r="3.5"/>
<circle cx="509.73" cy="271.79" r="3.5"/>
<circle cx="509.80" cy="275.27" r="3.5"/>
<circle cx="509.87" cy="277.87" r="3.5"/>
<circle cx="509.94" cy="281.32" r="3.5"/>
<circle cx="510.02" cy="277.46" r="3.5"/>
<circle cx="510.09" cy="279.37" r="3.5"/>
<circle cx="510.16" cy="275.65" r="3.5"/>
<circle cx="510.23" cy="279.49" r="3.5"/>
<circle cx="510.31" cy="284.95" r="3.5"/>
<circle cx="510.38" cy="275.70" r="3.5"/>
<circle cx="510.45" cy="287.94" r="3.5"/>
<circle cx="510.52" cy="275.99" r="3.5"/>
<circle cx="510.59" cy="278.71" r="3.5"/>
<circle cx="510.67" cy="279.40" r="3.5"/>
<circle cx="510.74" cy="282.92" r="3.5"/>
<circle cx="510.81" cy="273.82" r="3.5"/>
<circle cx="510.88" cy="270.35" r="3.5"/>
<circle cx="510.95" cy="281.46" r="3.5"/>
<circle cx="511.02" cy="282.31" r="3.5"/>
<circle cx="511.09" cy="281.68" r="3.5"/>
<circle cx="511.16" cy="290.05" r="3.5"/>
<circle cx="511.24" cy="280.10" r="3.5"/>
<circle cx="511.31" cy="280.37" r="3.5"/>
<circle cx="511.38" cy="283.26" r="3.5"/>
<circle cx="511.45" cy="280.99" r="3.5"/>
<circle cx="511.52" cy="286.51" r="3.5"/>
<circle cx="511.59" cy="274.36" r="3.5"/>
<circle cx="511.66" cy="278.06" r="3.5"/>
<circle cx="511.73" cy="265.09" r="3.5"/>
<circle cx="511.80" cy="283.25" r="3.5"/>
<circle cx="511.87" cy="278.26" r="3.5"/>
<circle cx="511.94" cy="283.88" r="3.5"/>
<circle cx="512.01" cy="289.25" r="3.5"/>
<circle cx="512.08" cy="280.03" r="3.5"/>
<circle cx="512.15" cy="279.02" r="3.5"/>
<circle cx="512.22" cy="278.01" r="3.5"/>
<circle cx="512.29" cy="276.60" r="3.5"/>
<circle cx="512.36" cy="277.56" r="3.5"/>
<circle cx="512.43" cy="283.19" r="3.5"/>
<circle cx="512.50" cy="280.61" r="3.5"/>
<circle cx="512.57" cy="280.81" r="3.5"/>
<circle cx="512.64" cy="279.81" r="3.5"/>
<circle cx="512.70" cy="284.71" r="3.5"/>
<circle cx="512.77" cy="282.91" r="3.5"/>
<circle cx="512.84" cy="280.15" r="3.5"/>
<circle cx="512.91" cy="283.82" r="3.5"/>
<circle cx="512.98" cy="280.23" r="3.5"/>
<circle cx="513.05" cy="275.78" r="3.5"/>
<circle cx="513.12" cy="287.63" r="3.5"/>
<circle cx="513.19" cy="283.22" r="3.5"/>
<circle cx="513.25" cy="276.82" r="3.5"/>
<circle cx="513.32" cy="286.16" r="3.5"/>
<circle cx="513.39" cy="282.88" r="3.5"/>
<circle cx="513.46" cy="274.19" r="3.5"/>
<circle cx="513.53" cy="288.85" r="3.5"/>
<circle cx="513.59" cy="283.04" r="3.5"/>
<circle cx="513.66" cy="285.69" r="3.5"/>
<circle cx="513.73" cy="282.55" r="3.5"/>
<circle cx="513.80" cy="281.00" r="3.5"/>
<circle cx="513.86" cy="274.53" r="3.5"/>
<circle cx="513.93" cy="286.38" r="3.5"/>
<circle cx="514.00" cy="282.03" r="3.5"/>
<circle cx="514.07" cy="280.60" r="3.5"/>
<circle cx="514.13" cy="283.68" r="3.5"/>
<circle cx="514.20" cy="282.45" r="3.5"/>
<circle cx="514.27" cy="285.36" r="3.5"/>
<circle cx="514.34" cy="280.44" r="3.5"/>
<circle cx="514.40" cy="282.10" r="3.5"/>
<circle cx="514.47" cy="272.09" r="3.5"/>
<circle cx="514.54" cy="280.37" r="3.5"/>
<circle cx="514.60" cy="285.73" r="3.5"/>
<circle cx="514.67" cy="289.00" r="3.5"/>
<circle cx="514.74" cy="280.83" r="3.5"/>
<circle cx="514.80" cy="282.07" r="3.5"/>
<circle cx="514.87" cy="290.44" r="3.5"/>
<circle cx="514.93" cy="281.20" r="3.5"/>
<circle cx="515.00" cy="286.45" r="3.5"/>
<circle cx="515.07" cy="291.16" r="3.5"/>
<circle cx="515.13" cy="283.18" r="3.5"/>
<circle cx="515.20" cy="289.11" r="3.5"/>
<circle cx="515.26" cy="279.59" r="3.5"/>
<circle cx="515.33" cy="284.20" r="3.5"/>
<circle cx="515.40" cy="282.85" r="3.5"/>
<circle cx="515.46" cy="283.87" r="3.5"/>
<circle cx="515.53" cy="289.02" r="3.5"/>
<circle cx="515.59" cy="295.42" r="3.5"/>
<circle cx="515.66" cy="280.14" r="3.5"/>
<circle cx="515.72" cy="280.65" r="3.5"/>
<circle cx="515.79" cy="286.13" r="3.5"/>
<circle cx="515.85" cy="278.33" r="3.5"/>
<circle cx="515.92" cy="286.27" r="3.5"/>
<circle cx="515.98" cy="286.72" r="3.5"/>
<circle cx="516.05" cy="282.45" r="3.5"/>
<circle cx="516.11" cy="286.65" r="3.5"/>
<circle cx="516.18" cy="276.04" r="3.5"/>
<circle cx="516.24" cy="287.97" r="3.5"/>
<circle cx="516.31" cy="276.14" r="3.5"/>
<circle cx="516.37" cy="280.58" r="3.5"/>
<circle cx="516.44" cy="281.36" r="3.5"/>
<circle cx="516.50" cy="282.22" r="3.5"/>
<circle cx="516.56" cy="288.84" r="3.5"/>
<circle cx="516.63" cy="284.86" r="3.5"/>
<circle cx="516.69" cy="282.41" r="3.5"/>
<circle cx="516.76" cy="287.41" r="3.5"/>
<circle cx="516.82" cy="292.94" r="3.5"/>
<circle cx="516.88" cy="284.71" r="3.5"/>
<circle cx="516.95" cy="286.68" r="3.5"/>
<circle cx="517.01" cy="291.38" r="3.5"/>
<circle cx="517.08" cy="286.29" r="3.5"/>
<circle cx="517.14" cy="278.09" r="3.5"/>
<circle cx="517.20" cy="298.29" r="3.5"/>
<circle cx="517.27" cy="296.87" r="3.5"/>
<circle cx="517.33" cy="274.46" r="3.5"/>
<circle cx="517.39" cy="284.96" r="3.5"/>
<circle cx="517.46" cy="287.48" r="3.5"/>
<circle cx="517.52" cy="290.51" r="3.5"/>
<circle cx="517.58" cy="288.98" r="3.5"/>
<circle cx="517.64" cy="283.94" r="3.5"/>
<circle cx="517.71" cy="279.75" r="3.5"/>
<circle cx="517.77" cy="286.10" r="3.5"/>
<circle cx="517.83" cy="291.25" r="3.5"/>
<circle cx="517.90" cy="279.69" r="3.5"/>
<circle cx="517.96" cy="280.08" r="3.5"/>
<circle cx="518.02" cy="286.64" r="3.5"/>
<circle cx="518.08" cy="272.89" r="3.5"/>
<circle cx="518.15" cy="288.80" r="3.5"/>
<circle cx="518.21" cy="281.32" r="3.5"/>
<circle cx="518.27" cy="284.24" r="3.5"/>
<circle cx="518.33" cy="280.86" r="3.5"/>
<circle cx="518.39" cy="293.23" r="3.5"/>
<circle cx="518.46" cy="294.70" r="3.5"/>
<circle cx="518.52" cy="272.40" r="3.5"/>
<circle cx="518.58" cy="295.39" r="3.5"/>
<circle cx="518.64" cy="292.28" r="3.5"/>
<circle cx="518.70" cy="276.40" r="3.5"/>
<circle cx="518.77" cy="278.24" r="3.5"/>
<circle cx="518.83" cy="290.72" r="3.5"/>
<circle cx="518.89" cy="288.93" r="3.5"/>
<circle cx="518.95" cy="286.02" r="3.5"/>
<circle cx="519.01" cy="296.77" r="3.5"/>
<circle cx="519.07" cy="284.77" r="3.5"/>
<circle cx="519.13" cy="289.60" r="3.5"/>
<circle cx="519.20" cy="283.93" r="3.5"/>
<circle cx="519.26" cy="290.13" r="3.5"/>
<circle cx="519.32" cy="286.86" r="3.5"/>
<circle cx="519.38" cy="286.08" r="3.5"/>
<circle cx="519.44" cy="290.84" r="3.5"/>
<circle cx="519.50" cy="287.90" r="3.5"/>
<circle cx="519.56" cy="293.37" r="3.5"/>
<circle cx="519.62" cy="293.60" r="3.5"/>
<circle cx="519.68" cy="285.90" r="3.5"/>
<circle cx="519.74" cy="287.74" r="3.5"/>
<circle cx="519.80" cy="291.47" r="3.5"/>
<circle cx="519.86" cy="289.47" r="3.5"/>
<circle cx="519.92" cy="289.01" r="3.5"/>
<circle cx="519.98" cy="284.04" r="3.5"/>
<circle cx="520.04" cy="286.96" r="3.5"/>
<circle cx="520.10" cy="282.60" r="3.5"/>
<circle cx="520.16" cy="293.21" r="3.5"/>
<circle cx="520.22" cy="284.15" r="3.5"/>
<circle cx="520.28" cy="294.62" r="3.5"/>
<circle cx="520.34" cy="299.50" r="3.5"/>
<circle cx="520.40" cy="271.11" r="3.5"/>
<circle cx="520.46" cy="284.66" r="3.5"/>
<circle cx="520.52" cy="286.64" r="3.5"/>
<circle cx="520.58" cy="277.84" r="3.5"/>
<circle cx="520.64" cy="295.80" r="3.5"/>
<circle cx="520.70" cy="282.02" r="3.5"/>
<circle cx="520.76" cy="289.66" r="3.5"/>
<circle cx="520.82" cy="277.63" r="3.5"/>
<circle cx="520.88" cy="279.02" r="3.5"/>
<circle cx="520.94" cy="281.56" r="3.5"/>
<circle cx="521.00" cy="292.65" r="3.5"/>
<circle cx="521.06" cy="272.62" r="3.5"/>
<circle cx="521.12" cy="286.92" r="3.5"/>
<circle cx="521.18" cy="292.48" r="3.5"/>
<circle cx="521.23" cy="271.60" r="3.5"/>
<circle cx="521.29" cy="299.50" r="3.5"/>
<circle cx="521.35" cy="280.49" r="3.5"/>
<circle cx="521.41" cy="297.02" r="3.5"/>
<circle cx="521.47" cy="287.15" r="3.5"/>
<circle cx="521.53" cy="292.60" r="3.5"/>
<circle cx="521.59" cy="284.34" r="3.5"/>
<circle cx="521.64" cy="281.37" r="3.5"/>
<circle cx="521.70" cy="294.33" r="3.5"/>
<circle cx="521.76" cy="290.83" r="3.5"/>
<circle cx="521.82" cy="295.02" r="3.5"/>
<circle cx="521.88" cy="294.31" r="3.5"/>
<circle cx="521.94" cy="295.33" r="3.5"/>
<circle cx="521.99" cy="299.07" r="3.5"/>
<circle cx="522.05" cy="289.05" r="3.5"/>
<circle cx="522.11" cy="292.07" r="3.5"/>
<circle cx="522.17" cy="287.47" r="3.5"/>
<circle cx="522.23" cy="285.66" r="3.5"/>
<circle cx="522.28" cy="286.58" r="3.5"/>
<circle cx="522.34" cy="281.38" r="3.5"/>
<circle cx="522.40" cy="293.93" r="3.5"/>
<circle cx="522.46" cy="298.87" r="3.5"/>
<circle cx="522.51" cy="289.92" r="3.5"/>
<circle cx="522.57" cy="290.97" r="3.5"/>
<circle cx="522.63" cy="277.26" r="3.5"/>
<circle cx="522.69" cy="285.13" r="3.5"/>
<circle cx="522.74" cy="290.53" r="3.5"/>
<circle cx="522.80" cy="296.40" r="3.5"/>
<circle cx="522.86" cy="291.60" r="3.5"/>
<circle cx="522.91" cy="290.25" r="3.5"/>
<circle cx="522.97" cy="290.29" r="3.5"/>
<circle cx="523.03" cy="288.58" r="3.5"/>
<circle cx="523.09" cy="289.89" r="3.5"/>
<circle cx="523.14" cy="296.34" r="3.5"/>
<circle cx="523.20" cy="292.79" r="3.5"/>
<circle cx="523.26" cy="287.76" r="3.5"/>
<circle cx="523.31" cy="281.91" r="3.5"/>
<circle cx="523.37" cy="277.11" r="3.5"/>
<circle cx="523.43" cy="289.95" r="3.5"/>
<circle cx="523.48" cy="292.20" r="3.5"/>
<circle cx="523.54" cy="275.51" r="3.5"/>
<circle cx="523.59" cy="293.81" r="3.5"/>
<circle cx="523.65" cy="286.09" r="3.5"/>
<circle cx="523.71" cy="292.89" r="3.5"/>
<circle cx="523.76" cy="290.58" r="3.5"/>
<circle cx="523.82" cy="292.89" r="3.5"/>
<circle cx="523.88" cy="295.51" r="3.5"/>
<circle cx="523.93" cy="293.71" r="3.5"/>
<circle cx="523.99" cy="295.27" r="3.5"/>
<circle cx="524.04" cy="283.65" r="3.5"/>
<circle cx="524.10" cy="280.59" r="3.5"/>
<circle cx="524.16" cy="298.87" r="3.5"/>
<circle cx="524.21" cy="296.54" r="3.5"/>
<circle cx="524.27" cy="298.43" r="3.5"/>
<circle cx="524.32" cy="288.14" r="3.5"/>
<circle cx="524.38" cy="299.50" r="3.5"/>
<circle cx="524.43" cy="299.50" r="3.5"/>
<circle cx="524.49" cy="296.69" r="3.5"/>
<circle cx="524.54" cy="287.59" r="3.5"/>
<circle cx="524.60" cy="284.53" r="3.5"/>
<circle cx="524.65" cy="299.34" r="3.5"/>
<circle cx="524.71" cy="294.23" r="3.5"/>
<circle cx="524.77" cy="288.82" r="3.5"/>
<circle cx="524.82" cy="280.36" r="3.5"/>
<circle cx="524.88" cy="278.36" r="3.5"/>
<circle cx="524.93" cy="289.66" r="3.5"/>
<circle cx="524.98" cy="290.95" r="3.5"/>
<circle cx="525.04" cy="287.32" r="3.5"/>
<circle cx="525.09" cy="290.25" r="3.5"/>
<circle cx="525.15" cy="297.11" r="3.5"/>
<circle cx="525.20" cy="293.70" r="3.5"/>
<circle cx="525.26" cy="297.09" r="3.5"/>
<circle cx="525.31" cy="292.25" r="3.5"/>
<circle cx="525.37" cy="295.07" r="3.5"/>
<circle cx="525.42" cy="299.50" r="3.5"/>
<circle cx="525.48" cy="285.32" r="3.5"/>
<circle cx="525.53" cy="290.25" r="3.5"/>
<circle cx="525.59" cy="291.01" r="3.5"/>
<circle cx="525.64" cy="298.15" r="3.5"/>
<circle cx="525.69" cy="299.50" r="3.5"/>
<circle cx="525.75" cy="283.12" r="3.5"/>
<circle cx="525.80" cy="299.50" r="3.5"/>
<circle cx="525.86" cy="293.38" r="3.5"/>
<circle cx="525.91" cy="291.54" r="3.5"/>
<circle cx="525.96" cy="288.96" r="3.5"/>
<circle cx="526.02" cy="291.11" r="3.5"/>
<circle cx="526.07" cy="299.50" r="3.5"/>
<circle cx="526.13" cy="286.80" r="3.5"/>
</g>
<polyline points="155.80,68.18 156.80,69.30 157.80,70.41 158.80,71.53 159.80,72.64 160.80,73.74 161.80,74.85 162.80,75.96 163.80,77.06 164.80,78.16 165.80,79.25 166.80,80.35 167.80,81.44 168.80,82.53 169.80,83.61 170.80,84.70 171.80,85.78 172.80,86.86 173.80,87.93 174.80,89.00 175.80,90.07 176.80,91.14 177.80,92.20 178.80,93.26 179.80,94.32 180.80,95.37 181.80,96.42 182.80,97.47 183.80,98.51 184.80,99.55 185.80,100.59 186.80,101.62 187.80,102.65 188.80,103.68 189.80,104.70 190.80,105.71 191.80,106.73 192.80,107.74 193.80,108.74 194.80,109.74 195.80,110.74 196.80,111.73 197.80,112.72 198.80,113.70 199.80,114.68 200.80,115.66 201.80,116.63 202.80,117.59 203.80,118.55 204.80,119.51 205.80,120.46 206.80,121.40 207.80,122.35 208.80,123.28 209.80,124.21 210.80,125.14 211.80,126.06 212.80,126.97 213.80,127.88 214.80,128.78 215.80,129.68 216.80,130.57 217.80,131.46 218.80,132.34 219.80,133.22 220.80,134.08 221.80,134.95 222.80,135.80 223.80,136.66 224.80,137.50 225.80,138.34 226.80,139.17 227.80,140.00 228.80,140.82 229.80,141.63 230.80,142.44 231.80,143.24 232.80,144.03 233.80,144.82 234.80,145.60 235.80,146.37 236.80,147.14 237.80,147.90 238.80,148.66 239.80,149.40 240.80,150.14 241.80,150.88 242.80,151.60 243.80,152.32 244.80,153.03 245.80,153.74 246.80,154.44 247.80,155.13 248.80,155.81 249.80,156.49 250.80,157.16 251.80,157.82 252.80,158.48 253.80,159.13 254.80,159.77 255.80,160.41 256.80,161.03 257.80,161.65 258.80,162.27 259.80,162.87 260.80,163.47 261.80,164.06 262.80,164.65 263.80,165.23 264.80,165.80 265.80,166.36 266.80,166.92 267.80,167.47 268.80,168.01 269.80,168.55 270.80,169.08 271.80,169.60 272.80,170.12 273.80,170.63 274.80,171.13 275.80,171.62 276.80,172.11 277.80,172.60 278.80,173.07 279.80,173.54 280.80,174.01 281.80,174.46 282.80,174.91 283.80,175.36 284.80,175.80 285.80,176.23 286.80,176.66 287.80,177.08 288.80,177.49 289.80,177.90 290.80,178.30 291.80,178.70 292.80,179.09 293.80,179.48 294.80,179.86 295.80,180.24 296.80,180.61 297.80,180.97 298.80,181.33 299.80,181.69 300.80,182.04 301.80,182.38 302.80,182.72 303.80,183.06 304.80,183.39 305.80,183.72 306.80,184.04 307.80,184.36 308.80,184.67 309.80,184.98 310.80,185.29 311.80,185.59 312.80,185.89 313.80,186.18 314.80,186.47 315.80,186.76 316.80,187.04 317.80,187.32 318.80,187.60 319.80,187.87 320.80,188.14 321.80,188.41 322.80,188.68 323.80,188.94 324.80,189.20 325.80,189.45 326.80,189.71 327.80,189.96 328.80,190.21 329.80,190.45 330.80,190.70 331.80,190.94 332.80,191.18 333.80,191.42 334.80,191.66 335.80,191.89 336.80,192.12 337.80,192.36 338.80,192.59 339.80,192.82 340.80,193.04 341.80,193.27 342.80,193.50 343.80,193.72 344.80,193.95 345.80,194.17 346.80,194.39 347.80,194.62 348.80,194.84 349.80,195.06 350.80,195.28 351.80,195.50 352.80,195.72 353.80,195.94 354.80,196.17 355.80,196.39 356.80,196.61 357.80,196.83 358.80,197.05 359.80,197.28 360.80,197.50 361.80,197.72 362.80,197.95 363.80,198.18 364.80,198.40 365.80,198.63 366.80,198.86 367.80,199.09 368.80,199.33 369.80,199.56 370.80,199.80 371.80,200.03 372.80,200.27 373.80,200.51 374.80,200.76 375.80,201.00 376.80,201.25 377.80,201.50 378.80,201.75 379.80,202.00 380.80,202.26 381.80,202.52 382.80,202.78 383.80,203.05 384.80,203.31 385.80,203.59 386.80,203.86 387.80,204.14 388.80,204.42 389.80,204.70 390.80,204.99 391.80,205.28 392.80,205.57 393.80,205.87 394.80,206.17 395.80,206.47 396.80,206.78 397.80,207.09 398.80,207.41 399.80,207.73 400.80,208.06 401.80,208.38 402.80,208.72 403.80,209.06 404.80,209.40 405.80,209.75 406.80,210.10 407.80,210.45 408.80,210.82 409.80,211.18 410.80,211.55 411.80,211.93 412.80,212.31 413.80,212.70 414.80,213.09 415.80,213.49 416.80,213.89 417.80,214.30 418.80,214.71 419.80,215.13 420.80,215.55 421.80,215.98 422.80,216.42 423.80,216.86 424.80,217.31 425.80,217.76 426.80,218.22 427.80,218.69 428.80,219.16 429.80,219.64 430.80,220.12 431.80,220.61 432.80,221.11 433.80,221.61 434.80,222.12 435.80,222.63 436.80,223.15 437.80,223.68 438.80,224.21 439.80,224.75 440.80,225.30 441.80,225.85 442.80,226.41 443.80,226.98 444.80,227.55 445.80,228.13 446.80,228.71 447.80,229.31 448.80,229.91 449.80,230.51 450.80,231.12 451.80,231.74 452.80,232.36 453.80,233.00 454.80,233.63 455.80,234.28 456.80,234.93 457.80,235.58 458.80,236.25 459.80,236.92 460.80,237.59 461.80,238.28 462.80,238.97 463.80,239.66 464.80,240.37 465.80,241.07 466.80,241.79 467.80,242.51 468.80,243.24 469.80,243.97 470.80,244.71 471.80,245.46 472.80,246.21 473.80,246.97 474.80,247.73 475.80,248.50 476.80,249.28 477.80,250.06 478.80,250.85 479.80,251.64 480.80,252.44 481.80,253.24 482.80,254.05 483.80,254.87 484.80,255.69 485.80,256.52 486.80,257.35 487.80,258.19 488.80,259.03 489.80,259.88 490.80,260.74 491.80,261.60 492.80,262.46 493.80,263.33 494.80,264.21 495.80,265.08 496.80,265.97 497.80,266.86 498.80,267.75 499.80,268.65 500.80,269.56 501.80,270.46 502.80,271.38 503.80,272.29 504.80,273.21 505.80,274.14 506.80,275.07 507.80,276.01 508.80,276.94 509.80,277.89 510.80,278.83 511.80,279.78 512.80,280.74 513.80,281.70 514.80,282.66 515.80,283.63 516.80,284.60 517.80,285.57 518.80,286.55 519.80,287.53 520.80,288.51 521.80,289.50 522.80,290.49" fill="none" stroke="#ff0000" stroke-width="1.8" stroke-linejoin="round"/>
<line x1="548.60" y1="293.00" x2="548.60" y2="299.00" stroke="#999" stroke-width="1.2"/>
<line x1="152.00" y1="455.00" x2="152.00" y2="679.50" stroke="#000" stroke-width="1.6"/>
<line x1="151.20" y1="678.75" x2="464.60" y2="678.75" stroke="#333" stroke-width="2.2"/>
<line x1="152.00" y1="634.33" x2="157.60" y2="634.33" stroke="#000" stroke-width="1.6"/>
<line x1="152.00" y1="589.66" x2="157.60" y2="589.66" stroke="#000" stroke-width="1.6"/>
<line x1="152.00" y1="544.99" x2="157.60" y2="544.99" stroke="#000" stroke-width="1.6"/>
<line x1="152.00" y1="500.32" x2="157.60" y2="500.32" stroke="#000" stroke-width="1.6"/>
<line x1="152.00" y1="455.65" x2="157.60" y2="455.65" stroke="#000" stroke-width="1.6"/>
<line x1="229.95" y1="678.75" x2="229.95" y2="672.80" stroke="#333" stroke-width="1.6"/>
<line x1="308.10" y1="678.75" x2="308.10" y2="672.80" stroke="#333" stroke-width="1.6"/>
<line x1="386.25" y1="678.75" x2="386.25" y2="672.80" stroke="#333" stroke-width="1.6"/>
<line x1="464.40" y1="678.75" x2="464.40" y2="672.80" stroke="#333" stroke-width="1.6"/>
<text x="147.10" y="648.30" font-size="36.5" text-anchor="end" fill="#000">20</text>
<text x="147.10" y="603.60" font-size="36.5" text-anchor="end" fill="#000">40</text>
<text x="147.10" y="557.90" font-size="36.5" text-anchor="end" fill="#000">60</text>
<text x="147.10" y="513.50" font-size="36.5" text-anchor="end" fill="#000">80</text>
<text x="147.10" y="471.10" font-size="36.5" text-anchor="end" fill="#000">100</text>
<text x="152.20" y="712.40" font-size="36.5" text-anchor="middle" fill="#000">0.0</text>
<text x="230.35" y="712.40" font-size="36.5" text-anchor="middle" fill="#000">1.0</text>
<text x="308.50" y="712.40" font-size="36.5" text-anchor="middle" fill="#000">2.0</text>
<text x="386.65" y="712.40" font-size="36.5" text-anchor="middle" fill="#000">3.0</text>
<text x="464.80" y="712.40" font-size="36.5" text-anchor="middle" fill="#000">4.0</text>
<text x="220.70" y="760.20" font-size="42.5" text-anchor="start" fill="#000">I</text>
<text x="232.60" y="768.30" font-size="21" text-anchor="start" fill="#000">mean</text>
<text x="295.20" y="760.20" font-size="42.5" text-anchor="start" fill="#000">(nA)</text>
<text transform="translate(50.9,672.6) rotate(-90)" font-size="42">σ<tspan font-size="20" dy="-20.6">2</tspan><tspan dy="20.6"> - σ</tspan><tspan font-size="20" dy="-20.6">2</tspan><tspan font-size="20" dy="29.7">bg </tspan><tspan dy="-9.1">(pA</tspan><tspan font-size="20" dy="-20.6">2</tspan><tspan dy="20.6">)</tspan></text>
<polyline points="152.00,679.00 157.19,674.03 162.39,669.11 167.59,664.23 172.78,659.39 177.97,654.59 183.17,649.83 188.37,645.12 193.56,640.45 198.75,635.82 203.95,631.23 209.14,626.69 214.34,622.18 219.53,617.72 224.73,613.30 229.93,608.93 235.12,604.59 240.31,600.30 245.51,596.05 250.70,591.84 255.90,587.68 261.10,583.55 266.29,579.47 271.49,575.43 276.68,571.43 281.88,567.48 287.07,563.57 292.26,559.70 297.46,555.87 302.65,552.08 307.85,548.34 313.04,544.63 318.24,540.97 323.44,537.36 328.63,533.78 333.82,530.25 339.02,526.75 344.22,523.31 349.41,519.90 354.61,516.53 359.80,513.21 365.00,509.93 370.19,506.69 375.38,503.49 380.58,500.34 385.77,497.23 390.97,494.16 396.16,491.13 401.36,488.14 406.55,485.20 411.75,482.30 416.94,479.44 422.14,476.62 427.33,473.85 432.53,471.12 437.73,468.42 442.92,465.78 448.11,463.17 453.31,460.61 458.50,458.08 463.70,455.60" fill="none" stroke="#000" stroke-width="1.3" stroke-linejoin="round"/>
<polyline points="152.00,679.00 157.20,675.30 162.40,671.65 167.60,668.05 172.80,664.50 178.00,661.00 183.20,657.55 188.40,654.15 193.60,650.80 198.80,647.50 204.00,644.25 209.20,641.05 214.40,637.91 219.60,634.81 224.80,631.76 230.00,628.77 235.20,625.82 240.40,622.92 245.60,620.08 250.80,617.29 256.00,614.54 261.20,611.85 266.40,609.20 271.60,606.61 276.80,604.07 282.00,601.58 287.20,599.13 292.40,596.74 297.60,594.40 302.80,592.11 308.00,589.87 313.20,587.68 318.40,585.54 323.60,583.45 328.80,581.41 334.00,579.43 339.20,577.49 344.40,575.60 349.60,573.76 354.80,571.98 360.00,570.24 365.20,568.56 370.40,566.92 375.60,565.34 380.80,563.80 386.00,562.32 391.20,560.88 396.40,559.50 401.60,558.17 406.80,556.88 412.00,555.65 417.20,554.47 422.40,553.34 427.60,552.26 432.80,551.23 438.00,550.25 443.20,549.32 448.40,548.44 453.60,547.61 458.80,546.83 464.00,546.10" fill="none" stroke="#ff0000" stroke-width="1.25" stroke-linejoin="round"/>
<circle cx="281.10" cy="548.90" r="4.6" fill="#000" stroke="none" stroke-width="1"/>
<circle cx="326.00" cy="541.30" r="4.6" fill="#000" stroke="none" stroke-width="1"/>
<circle cx="211.60" cy="628.10" r="4.6" fill="#000" stroke="none" stroke-width="1"/>
<circle cx="182.50" cy="657.80" r="4.6" fill="#000" stroke="none" stroke-width="1"/>
<circle cx="160.10" cy="668.50" r="4.6" fill="#000" stroke="none" stroke-width="1"/>
<circle cx="428.50" cy="463.10" r="4.6" fill="#000" stroke="none" stroke-width="1"/>
<circle cx="353.80" cy="521.10" r="4.6" fill="#000" stroke="none" stroke-width="1"/>
<circle cx="374.40" cy="525.70" r="4.6" fill="#000" stroke="none" stroke-width="1"/>
<circle cx="326.20" cy="541.40" r="4.6" fill="#000" stroke="none" stroke-width="1"/>
<circle cx="296.10" cy="601.20" r="4.1" fill="#ff0000" stroke="#000" stroke-width="0.8"/>
<circle cx="213.80" cy="632.40" r="4.1" fill="#ff0000" stroke="#000" stroke-width="0.8"/>
<circle cx="158.10" cy="663.30" r="4.1" fill="#ff0000" stroke="#000" stroke-width="0.8"/>
<circle cx="160.10" cy="676.70" r="4.1" fill="#ff0000" stroke="#000" stroke-width="0.8"/>
<circle cx="168.30" cy="676.70" r="4.1" fill="#ff0000" stroke="#000" stroke-width="0.8"/>
<circle cx="391.50" cy="561.80" r="4.1" fill="#ff0000" stroke="#000" stroke-width="0.8"/>
<circle cx="211.60" cy="628.10" r="4.6" fill="#000" stroke="none" stroke-width="1"/>
<circle cx="160.10" cy="668.50" r="4.6" fill="#000" stroke="none" stroke-width="1"/>
<circle cx="30.30" cy="703.60" r="0.9" fill="#888" stroke="none" stroke-width="1"/>
<line x1="181.50" y1="420.60" x2="224.10" y2="420.60" stroke="#000" stroke-width="2.4"/>
<rect x="296.00" y="417.40" width="13.00" height="66.30" fill="#b1acb9" stroke="none" stroke-width="1"/>
<polyline points="224.10,420.60 224.20,420.96 225.40,420.99 226.40,421.01 227.40,421.03 228.40,421.04 229.40,421.05 230.40,421.06 231.40,421.06 232.40,421.07 233.40,421.07 234.40,421.08 235.40,421.08 236.40,421.08 237.40,421.08 238.40,421.08 239.40,421.08 240.40,421.08 241.40,421.09 242.40,421.09 243.40,421.09 244.40,421.09 245.40,421.09 246.40,421.09 247.40,421.09 248.40,421.09 249.40,421.09 250.40,421.09 251.40,421.09 252.40,421.09 253.40,421.09 254.40,421.09 255.40,421.09 256.40,421.09 257.40,421.09 258.40,421.09 259.40,421.09 260.40,421.09 261.40,421.09 262.40,421.09 263.40,421.09 264.40,421.09 265.40,421.09 266.40,421.09 267.40,421.09 268.40,421.09 269.40,421.09 270.40,421.09 271.40,421.09 272.40,421.09 273.40,421.09 274.40,421.09 275.40,421.10 276.40,421.10 277.40,421.10 278.40,421.10 279.40,421.10 280.40,421.10 281.40,421.10 282.40,421.10 283.40,421.10 284.40,421.10 285.40,421.10 286.40,421.10 287.40,421.10 288.40,421.10 289.40,421.10 290.40,421.10 291.40,421.10 292.40,421.10 293.40,421.10 294.40,421.10 295.40,421.10 296.00,421.10" fill="none" stroke="#111" stroke-width="0.9" stroke-linejoin="round"/>
<polyline points="224.10,420.60 224.20,424.66 225.40,424.96 226.40,425.19 227.40,425.38 228.40,425.52 229.40,425.63 230.40,425.72 231.40,425.79 232.40,425.85 233.40,425.89 234.40,425.92 235.40,425.95 236.40,425.97 237.40,425.99 238.40,426.00 239.40,426.02 240.40,426.03 241.40,426.03 242.40,426.04 243.40,426.05 244.40,426.05 245.40,426.06 246.40,426.06 247.40,426.07 248.40,426.07 249.40,426.07 250.40,426.08 251.40,426.08 252.40,426.08 253.40,426.08 254.40,426.09 255.40,426.09 256.40,426.09 257.40,426.10 258.40,426.10 259.40,426.10 260.40,426.10 261.40,426.11 262.40,426.11 263.40,426.11 264.40,426.11 265.40,426.12 266.40,426.12 267.40,426.12 268.40,426.13 269.40,426.13 270.40,426.13 271.40,426.13 272.40,426.14 273.40,426.14 274.40,426.14 275.40,426.14 276.40,426.15 277.40,426.15 278.40,426.15 279.40,426.15 280.40,426.16 281.40,426.16 282.40,426.16 283.40,426.17 284.40,426.17 285.40,426.17 286.40,426.17 287.40,426.18 288.40,426.18 289.40,426.18 290.40,426.18 291.40,426.19 292.40,426.19 293.40,426.19 294.40,426.19 295.40,426.20 296.00,426.20" fill="none" stroke="#111" stroke-width="0.9" stroke-linejoin="round"/>
<polyline points="224.10,420.60 224.20,428.93 225.40,429.55 226.40,430.03 227.40,430.41 228.40,430.71 229.40,430.94 230.40,431.12 231.40,431.26 232.40,431.37 233.40,431.46 234.40,431.53 235.40,431.59 236.40,431.63 237.40,431.67 238.40,431.70 239.40,431.72 240.40,431.74 241.40,431.76 242.40,431.77 243.40,431.79 244.40,431.80 245.40,431.81 246.40,431.82 247.40,431.82 248.40,431.83 249.40,431.84 250.40,431.84 251.40,431.85 252.40,431.86 253.40,431.86 254.40,431.87 255.40,431.87 256.40,431.88 257.40,431.89 258.40,431.89 259.40,431.90 260.40,431.90 261.40,431.91 262.40,431.91 263.40,431.92 264.40,431.93 265.40,431.93 266.40,431.94 267.40,431.94 268.40,431.95 269.40,431.95 270.40,431.96 271.40,431.96 272.40,431.97 273.40,431.97 274.40,431.98 275.40,431.99 276.40,431.99 277.40,432.00 278.40,432.00 279.40,432.01 280.40,432.01 281.40,432.02 282.40,432.02 283.40,432.03 284.40,432.03 285.40,432.04 286.40,432.05 287.40,432.05 288.40,432.06 289.40,432.06 290.40,432.07 291.40,432.07 292.40,432.08 293.40,432.08 294.40,432.09 295.40,432.09 296.00,432.10" fill="none" stroke="#111" stroke-width="0.9" stroke-linejoin="round"/>
<polyline points="224.10,420.60 224.20,439.94 225.40,441.38 226.40,442.50 227.40,443.38 228.40,444.07 229.40,444.60 230.40,445.02 231.40,445.36 232.40,445.62 233.40,445.82 234.40,445.98 235.40,446.11 236.40,446.22 237.40,446.30 238.40,446.37 239.40,446.43 240.40,446.47 241.40,446.51 242.40,446.54 243.40,446.57 244.40,446.60 245.40,446.62 246.40,446.64 247.40,446.66 248.40,446.68 249.40,446.69 250.40,446.71 251.40,446.72 252.40,446.74 253.40,446.75 254.40,446.76 255.40,446.78 256.40,446.79 257.40,446.80 258.40,446.82 259.40,446.83 260.40,446.84 261.40,446.86 262.40,446.87 263.40,446.88 264.40,446.89 265.40,446.91 266.40,446.92 267.40,446.93 268.40,446.94 269.40,446.96 270.40,446.97 271.40,446.98 272.40,447.00 273.40,447.01 274.40,447.02 275.40,447.03 276.40,447.05 277.40,447.06 278.40,447.07 279.40,447.08 280.40,447.10 281.40,447.11 282.40,447.12 283.40,447.14 284.40,447.15 285.40,447.16 286.40,447.17 287.40,447.19 288.40,447.20 289.40,447.21 290.40,447.22 291.40,447.24 292.40,447.25 293.40,447.26 294.40,447.27 295.40,447.29 296.00,447.30" fill="none" stroke="#111" stroke-width="0.9" stroke-linejoin="round"/>
<polyline points="224.10,420.60 224.20,446.97 225.40,448.93 226.40,450.46 227.40,451.66 228.40,452.59 229.40,453.32 230.40,453.90 231.40,454.35 232.40,454.70 233.40,454.98 234.40,455.21 235.40,455.38 236.40,455.53 237.40,455.64 238.40,455.73 239.40,455.81 240.40,455.87 241.40,455.92 242.40,455.97 243.40,456.01 244.40,456.04 245.40,456.07 246.40,456.10 247.40,456.13 248.40,456.15 249.40,456.17 250.40,456.19 251.40,456.21 252.40,456.23 253.40,456.25 254.40,456.27 255.40,456.29 256.40,456.31 257.40,456.32 258.40,456.34 259.40,456.36 260.40,456.38 261.40,456.39 262.40,456.41 263.40,456.43 264.40,456.45 265.40,456.46 266.40,456.48 267.40,456.50 268.40,456.52 269.40,456.53 270.40,456.55 271.40,456.57 272.40,456.59 273.40,456.60 274.40,456.62 275.40,456.64 276.40,456.65 277.40,456.67 278.40,456.69 279.40,456.71 280.40,456.72 281.40,456.74 282.40,456.76 283.40,456.78 284.40,456.79 285.40,456.81 286.40,456.83 287.40,456.84 288.40,456.86 289.40,456.88 290.40,456.90 291.40,456.91 292.40,456.93 293.40,456.95 294.40,456.97 295.40,456.98 296.00,457.00" fill="none" stroke="#111" stroke-width="0.9" stroke-linejoin="round"/>
<polyline points="224.10,420.60 224.20,451.24 225.40,453.52 226.40,455.30 227.40,456.69 228.40,457.78 229.40,458.63 230.40,459.30 231.40,459.82 232.40,460.23 233.40,460.56 234.40,460.82 235.40,461.02 236.40,461.19 237.40,461.32 238.40,461.43 239.40,461.51 240.40,461.59 241.40,461.65 242.40,461.70 243.40,461.75 244.40,461.79 245.40,461.82 246.40,461.85 247.40,461.88 248.40,461.91 249.40,461.94 250.40,461.96 251.40,461.98 252.40,462.01 253.40,462.03 254.40,462.05 255.40,462.07 256.40,462.09 257.40,462.11 258.40,462.13 259.40,462.16 260.40,462.18 261.40,462.20 262.40,462.22 263.40,462.24 264.40,462.26 265.40,462.28 266.40,462.30 267.40,462.32 268.40,462.34 269.40,462.36 270.40,462.38 271.40,462.40 272.40,462.42 273.40,462.44 274.40,462.46 275.40,462.48 276.40,462.50 277.40,462.52 278.40,462.54 279.40,462.56 280.40,462.58 281.40,462.60 282.40,462.62 283.40,462.64 284.40,462.66 285.40,462.68 286.40,462.70 287.40,462.72 288.40,462.74 289.40,462.76 290.40,462.78 291.40,462.80 292.40,462.82 293.40,462.84 294.40,462.86 295.40,462.88 296.00,462.90" fill="none" stroke="#111" stroke-width="0.9" stroke-linejoin="round"/>
<polyline points="224.10,420.60 224.20,454.64 225.40,457.18 226.40,459.15 227.40,460.70 228.40,461.91 229.40,462.85 230.40,463.59 231.40,464.18 232.40,464.64 233.40,465.00 234.40,465.28 235.40,465.51 236.40,465.70 237.40,465.84 238.40,465.96 239.40,466.06 240.40,466.14 241.40,466.21 242.40,466.27 243.40,466.32 244.40,466.36 245.40,466.40 246.40,466.44 247.40,466.47 248.40,466.50 249.40,466.53 250.40,466.56 251.40,466.58 252.40,466.61 253.40,466.63 254.40,466.66 255.40,466.68 256.40,466.70 257.40,466.73 258.40,466.75 259.40,466.77 260.40,466.80 261.40,466.82 262.40,466.84 263.40,466.86 264.40,466.89 265.40,466.91 266.40,466.93 267.40,466.95 268.40,466.97 269.40,467.00 270.40,467.02 271.40,467.04 272.40,467.06 273.40,467.09 274.40,467.11 275.40,467.13 276.40,467.15 277.40,467.18 278.40,467.20 279.40,467.22 280.40,467.24 281.40,467.27 282.40,467.29 283.40,467.31 284.40,467.33 285.40,467.35 286.40,467.38 287.40,467.40 288.40,467.42 289.40,467.44 290.40,467.47 291.40,467.49 292.40,467.51 293.40,467.53 294.40,467.56 295.40,467.58 296.00,467.60" fill="none" stroke="#111" stroke-width="0.9" stroke-linejoin="round"/>
<polyline points="224.10,420.60 224.20,462.98 225.40,466.13 226.40,468.59 227.40,470.51 228.40,472.01 229.40,473.19 230.40,474.11 231.40,474.84 232.40,475.41 233.40,475.86 234.40,476.22 235.40,476.50 236.40,476.73 237.40,476.91 238.40,477.06 239.40,477.18 240.40,477.29 241.40,477.37 242.40,477.44 243.40,477.51 244.40,477.56 245.40,477.61 246.40,477.65 247.40,477.69 248.40,477.73 249.40,477.77 250.40,477.80 251.40,477.83 252.40,477.86 253.40,477.90 254.40,477.93 255.40,477.96 256.40,477.98 257.40,478.01 258.40,478.04 259.40,478.07 260.40,478.10 261.40,478.13 262.40,478.15 263.40,478.18 264.40,478.21 265.40,478.24 266.40,478.27 267.40,478.29 268.40,478.32 269.40,478.35 270.40,478.38 271.40,478.41 272.40,478.43 273.40,478.46 274.40,478.49 275.40,478.52 276.40,478.54 277.40,478.57 278.40,478.60 279.40,478.63 280.40,478.66 281.40,478.68 282.40,478.71 283.40,478.74 284.40,478.77 285.40,478.79 286.40,478.82 287.40,478.85 288.40,478.88 289.40,478.91 290.40,478.93 291.40,478.96 292.40,478.99 293.40,479.02 294.40,479.04 295.40,479.07 296.00,479.10" fill="none" stroke="#111" stroke-width="0.9" stroke-linejoin="round"/>
<line x1="296.50" y1="421.10" x2="308.50" y2="421.10" stroke="#ff0000" stroke-width="2.0"/>
<line x1="296.50" y1="426.20" x2="308.50" y2="426.20" stroke="#ff0000" stroke-width="2.0"/>
<line x1="296.50" y1="432.10" x2="308.50" y2="432.10" stroke="#ff0000" stroke-width="2.0"/>
<line x1="296.50" y1="447.30" x2="308.50" y2="447.30" stroke="#ff0000" stroke-width="2.0"/>
<line x1="296.50" y1="457.00" x2="308.50" y2="457.00" stroke="#ff0000" stroke-width="2.0"/>
<line x1="296.50" y1="462.90" x2="308.50" y2="462.90" stroke="#ff0000" stroke-width="2.0"/>
<line x1="296.50" y1="467.60" x2="308.50" y2="467.60" stroke="#ff0000" stroke-width="2.0"/>
<line x1="296.50" y1="479.10" x2="308.50" y2="479.10" stroke="#ff0000" stroke-width="2.0"/>
<line x1="308.60" y1="420.60" x2="308.60" y2="479.50" stroke="#111" stroke-width="1.0"/>
<line x1="308.60" y1="420.60" x2="351.70" y2="420.60" stroke="#000" stroke-width="2.4"/>
<line x1="181.50" y1="466.80" x2="181.50" y2="482.80" stroke="#000" stroke-width="1.4"/>
<line x1="181.50" y1="482.80" x2="202.50" y2="482.80" stroke="#000" stroke-width="1.4"/>
<text x="182.70" y="508.50" font-size="23" text-anchor="start" fill="#000">25 ms</text>
<text transform="translate(177.7,500.1) rotate(-90)" font-size="20.5">1.0 nA</text>
<text x="321.90" y="483.80" font-size="31.5" text-anchor="start" fill="#000">NO</text>
<text x="368.70" y="490.00" font-size="15.5" text-anchor="start" fill="#000">3</text>
<text x="377.10" y="468.20" font-size="15.5" text-anchor="start" fill="#000">-</text>
<line x1="334.20" y1="597.30" x2="379.80" y2="597.30" stroke="#222" stroke-width="1.1"/>
<polyline points="379.80,597.30 380.00,598.30 381.00,598.42 382.00,598.52 383.00,598.61 384.00,598.69 385.00,598.76 386.00,598.83 387.00,598.88 388.00,598.93 389.00,598.98 390.00,599.01 391.00,599.05 392.00,599.08 393.00,599.10 394.00,599.13 395.00,599.15 396.00,599.16 397.00,599.18 398.00,599.19 399.00,599.21 400.00,599.22 401.00,599.23 402.00,599.24 403.00,599.24 404.00,599.25 405.00,599.26 406.00,599.26 407.00,599.27 408.00,599.27 409.00,599.27 410.00,599.28 411.00,599.28 412.00,599.28 413.00,599.28 414.00,599.29 415.00,599.29 416.00,599.29 417.00,599.29 418.00,599.29 419.00,599.29 420.00,599.29 421.00,599.29 422.00,599.29 423.00,599.30 424.00,599.30 425.00,599.30 426.00,599.30 427.00,599.30 428.00,599.30 429.00,599.30 430.00,599.30 431.00,599.30 432.00,599.30 433.00,599.30 434.00,599.30 435.00,599.30 436.00,599.30 437.00,599.30 438.00,599.30 439.00,599.30 440.00,599.30 441.00,599.30 442.00,599.30 443.00,599.30 444.00,599.30 445.00,599.30 446.00,599.30 447.00,599.30 448.00,599.30 449.00,599.30 450.00,599.30 451.00,599.30 452.00,599.30 453.00,599.30 454.00,599.30 455.00,599.30 456.00,599.30 456.10,599.30" fill="none" stroke="#777" stroke-width="1.2" stroke-linejoin="round"/>
<polyline points="379.80,597.30 380.00,598.15 381.00,598.25 382.00,598.34 383.00,598.42 384.00,598.48 385.00,598.55 386.00,598.60 387.00,598.65 388.00,598.69 389.00,598.72 390.00,598.76 391.00,598.79 392.00,598.81 393.00,598.83 394.00,598.85 395.00,598.87 396.00,598.88 397.00,598.90 398.00,598.91 399.00,598.92 400.00,598.93 401.00,598.94 402.00,598.95 403.00,598.95 404.00,598.96 405.00,598.96 406.00,598.97 407.00,598.97 408.00,598.97 409.00,598.98 410.00,598.98 411.00,598.98 412.00,598.98 413.00,598.99 414.00,598.99 415.00,598.99 416.00,598.99 417.00,598.99 418.00,598.99 419.00,598.99 420.00,598.99 421.00,598.99 422.00,599.00 423.00,599.00 424.00,599.00 425.00,599.00 426.00,599.00 427.00,599.00 428.00,599.00 429.00,599.00 430.00,599.00 431.00,599.00 432.00,599.00 433.00,599.00 434.00,599.00 435.00,599.00 436.00,599.00 437.00,599.00 438.00,599.00 439.00,599.00 440.00,599.00 441.00,599.00 442.00,599.00 443.00,599.00 444.00,599.00 445.00,599.00 446.00,599.00 447.00,599.00 448.00,599.00 449.00,599.00 450.00,599.00 451.00,599.00 452.00,599.00 453.00,599.00 454.00,599.00 455.00,599.00 456.00,599.00 456.10,599.00" fill="none" stroke="#777" stroke-width="1.2" stroke-linejoin="round"/>
<polyline points="379.80,597.30 380.00,598.86 381.00,599.13 382.00,599.38 383.00,599.59 384.00,599.78 385.00,599.95 386.00,600.09 387.00,600.22 388.00,600.34 389.00,600.44 390.00,600.53 391.00,600.61 392.00,600.68 393.00,600.74 394.00,600.79 395.00,600.84 396.00,600.88 397.00,600.92 398.00,600.95 399.00,600.98 400.00,601.01 401.00,601.03 402.00,601.05 403.00,601.07 404.00,601.08 405.00,601.10 406.00,601.11 407.00,601.12 408.00,601.13 409.00,601.14 410.00,601.14 411.00,601.15 412.00,601.16 413.00,601.16 414.00,601.17 415.00,601.17 416.00,601.17 417.00,601.18 418.00,601.18 419.00,601.18 420.00,601.18 421.00,601.19 422.00,601.19 423.00,601.19 424.00,601.19 425.00,601.19 426.00,601.19 427.00,601.19 428.00,601.19 429.00,601.19 430.00,601.20 431.00,601.20 432.00,601.20 433.00,601.20 434.00,601.20 435.00,601.20 436.00,601.20 437.00,601.20 438.00,601.20 439.00,601.20 440.00,601.20 441.00,601.20 442.00,601.20 443.00,601.20 444.00,601.20 445.00,601.20 446.00,601.20 447.00,601.20 448.00,601.20 449.00,601.20 450.00,601.20 451.00,601.20 452.00,601.20 453.00,601.20 454.00,601.20 455.00,601.20 456.00,601.20 456.10,601.20" fill="none" stroke="#999" stroke-width="1.2" stroke-linejoin="round"/>
<polyline points="379.80,597.30 380.00,601.76 381.00,602.93 382.00,603.96 383.00,604.87 384.00,605.67 385.00,606.38 386.00,607.01 387.00,607.56 388.00,608.04 389.00,608.47 390.00,608.85 391.00,609.19 392.00,609.48 393.00,609.74 394.00,609.97 395.00,610.18 396.00,610.36 397.00,610.51 398.00,610.65 399.00,610.78 400.00,610.88 401.00,610.98 402.00,611.06 403.00,611.14 404.00,611.21 405.00,611.26 406.00,611.31 407.00,611.36 408.00,611.40 409.00,611.44 410.00,611.47 411.00,611.49 412.00,611.52 413.00,611.54 414.00,611.56 415.00,611.57 416.00,611.59 417.00,611.60 418.00,611.61 419.00,611.62 420.00,611.63 421.00,611.64 422.00,611.65 423.00,611.65 424.00,611.66 425.00,611.66 426.00,611.67 427.00,611.67 428.00,611.68 429.00,611.68 430.00,611.68 431.00,611.68 432.00,611.69 433.00,611.69 434.00,611.69 435.00,611.69 436.00,611.69 437.00,611.69 438.00,611.69 439.00,611.69 440.00,611.69 441.00,611.70 442.00,611.70 443.00,611.70 444.00,611.70 445.00,611.70 446.00,611.70 447.00,611.70 448.00,611.70 449.00,611.70 450.00,611.70 451.00,611.70 452.00,611.70 453.00,611.70 454.00,611.70 455.00,611.70 456.00,611.70 456.10,611.70" fill="none" stroke="#222" stroke-width="0.9" stroke-linejoin="round"/>
<polyline points="379.80,597.30 380.00,619.20 381.00,620.59 382.00,621.81 383.00,622.89 384.00,623.85 385.00,624.69 386.00,625.43 387.00,626.08 388.00,626.66 389.00,627.17 390.00,627.62 391.00,628.02 392.00,628.37 393.00,628.68 394.00,628.95 395.00,629.19 396.00,629.40 397.00,629.59 398.00,629.76 399.00,629.90 400.00,630.03 401.00,630.15 402.00,630.25 403.00,630.33 404.00,630.41 405.00,630.48 406.00,630.54 407.00,630.60 408.00,630.64 409.00,630.69 410.00,630.72 411.00,630.76 412.00,630.78 413.00,630.81 414.00,630.83 415.00,630.85 416.00,630.87 417.00,630.88 418.00,630.90 419.00,630.91 420.00,630.92 421.00,630.93 422.00,630.94 423.00,630.95 424.00,630.95 425.00,630.96 426.00,630.96 427.00,630.97 428.00,630.97 429.00,630.97 430.00,630.98 431.00,630.98 432.00,630.98 433.00,630.98 434.00,630.99 435.00,630.99 436.00,630.99 437.00,630.99 438.00,630.99 439.00,630.99 440.00,630.99 441.00,630.99 442.00,630.99 443.00,631.00 444.00,631.00 445.00,631.00 446.00,631.00 447.00,631.00 448.00,631.00 449.00,631.00 450.00,631.00 451.00,631.00 452.00,631.00 453.00,631.00 454.00,631.00 455.00,631.00 456.00,631.00 456.10,631.00" fill="none" stroke="#222" stroke-width="0.9" stroke-linejoin="round"/>
<polyline points="379.80,597.30 380.00,638.96 381.00,640.68 382.00,642.20 383.00,643.54 384.00,644.72 385.00,645.76 386.00,646.69 387.00,647.50 388.00,648.21 389.00,648.85 390.00,649.41 391.00,649.90 392.00,650.33 393.00,650.72 394.00,651.06 395.00,651.36 396.00,651.62 397.00,651.85 398.00,652.06 399.00,652.24 400.00,652.40 401.00,652.54 402.00,652.66 403.00,652.77 404.00,652.87 405.00,652.96 406.00,653.03 407.00,653.10 408.00,653.16 409.00,653.21 410.00,653.26 411.00,653.30 412.00,653.33 413.00,653.36 414.00,653.39 415.00,653.42 416.00,653.44 417.00,653.46 418.00,653.47 419.00,653.49 420.00,653.50 421.00,653.51 422.00,653.52 423.00,653.53 424.00,653.54 425.00,653.55 426.00,653.55 427.00,653.56 428.00,653.56 429.00,653.57 430.00,653.57 431.00,653.58 432.00,653.58 433.00,653.58 434.00,653.58 435.00,653.58 436.00,653.59 437.00,653.59 438.00,653.59 439.00,653.59 440.00,653.59 441.00,653.59 442.00,653.59 443.00,653.59 444.00,653.60 445.00,653.60 446.00,653.60 447.00,653.60 448.00,653.60 449.00,653.60 450.00,653.60 451.00,653.60 452.00,653.60 453.00,653.60 454.00,653.60 455.00,653.60 456.00,653.60 456.10,653.60" fill="none" stroke="#222" stroke-width="0.9" stroke-linejoin="round"/>
<rect x="456.10" y="589.10" width="13.10" height="69.70" fill="#ffdecc" stroke="none" stroke-width="1"/>
<line x1="456.20" y1="599.90" x2="469.00" y2="599.90" stroke="#ff0000" stroke-width="2.2"/>
<line x1="456.20" y1="611.60" x2="469.00" y2="611.60" stroke="#ff0000" stroke-width="1.8"/>
<line x1="456.20" y1="631.00" x2="469.00" y2="631.00" stroke="#ff0000" stroke-width="1.8"/>
<line x1="456.20" y1="653.60" x2="469.00" y2="653.60" stroke="#ff0000" stroke-width="1.8"/>
<line x1="469.40" y1="597.00" x2="469.40" y2="653.60" stroke="#111" stroke-width="1.1"/>
<line x1="469.60" y1="597.30" x2="514.70" y2="597.30" stroke="#222" stroke-width="1.1"/>
<line x1="340.90" y1="625.00" x2="340.90" y2="643.20" stroke="#000" stroke-width="1.6"/>
<line x1="340.90" y1="643.20" x2="363.70" y2="643.20" stroke="#000" stroke-width="1.6"/>
<text x="455.60" y="587.80" font-size="31" text-anchor="start" fill="#d91e18">Cl</text>
<text x="484.30" y="572.80" font-size="15.5" text-anchor="start" fill="#d91e18">-</text>
<line x1="707.40" y1="49.40" x2="707.40" y2="301.40" stroke="#000" stroke-width="1.8"/>
<line x1="706.80" y1="300.60" x2="834.50" y2="300.60" stroke="#000" stroke-width="2.0"/>
<text x="700.50" y="312.70" font-size="33" text-anchor="end" fill="#000">0</text>
<line x1="707.40" y1="241.25" x2="713.40" y2="241.25" stroke="#000" stroke-width="1.8"/>
<text x="700.50" y="253.80" font-size="33" text-anchor="end" fill="#000">25</text>
<line x1="707.40" y1="181.90" x2="713.40" y2="181.90" stroke="#000" stroke-width="1.8"/>
<text x="700.50" y="192.00" font-size="33" text-anchor="end" fill="#000">50</text>
<line x1="707.40" y1="122.55" x2="713.40" y2="122.55" stroke="#000" stroke-width="1.8"/>
<text x="700.50" y="131.60" font-size="33" text-anchor="end" fill="#000">75</text>
<line x1="707.40" y1="63.20" x2="713.40" y2="63.20" stroke="#000" stroke-width="1.8"/>
<text x="700.50" y="70.10" font-size="33" text-anchor="end" fill="#000">100</text>
<line x1="739.20" y1="300.60" x2="739.20" y2="295.40" stroke="#000" stroke-width="1.8"/>
<line x1="802.00" y1="300.60" x2="802.00" y2="295.40" stroke="#000" stroke-width="1.8"/>
<text x="719.60" y="111.50" font-size="20.5" text-anchor="start" fill="#000">p = 5.2 x 10</text>
<text x="828.20" y="101.90" font-size="11.2" text-anchor="start" fill="#000">-5</text>
<polyline points="747.50,131.00 747.50,117.50 798.30,117.50 798.30,129.50" fill="none" stroke="#000" stroke-width="1.3" stroke-linejoin="round"/>
<rect x="718.80" y="239.40" width="40.70" height="24.10" fill="#fff" stroke="#999" stroke-width="1"/>
<rect x="719.30" y="243.80" width="39.70" height="19.20" fill="#fdc1c2" stroke="none" stroke-width="1"/>
<line x1="718.80" y1="243.80" x2="759.50" y2="243.80" stroke="#999" stroke-width="1"/>
<line x1="718.80" y1="252.20" x2="759.50" y2="252.20" stroke="#666" stroke-width="1"/>
<rect x="718.80" y="239.40" width="40.70" height="24.10" fill="none" stroke="#999" stroke-width="1"/>
<rect x="781.50" y="192.20" width="40.70" height="35.10" fill="#fff" stroke="#888" stroke-width="1"/>
<line x1="791.60" y1="197.00" x2="812.10" y2="197.00" stroke="#444" stroke-width="1"/>
<line x1="781.50" y1="208.20" x2="812.00" y2="208.20" stroke="#444" stroke-width="1" stroke-dasharray="2,2"/>
<line x1="781.50" y1="210.30" x2="822.20" y2="210.30" stroke="#444" stroke-width="1"/>
<line x1="791.60" y1="220.40" x2="812.10" y2="220.40" stroke="#444" stroke-width="1"/>
<circle cx="739.00" cy="204.80" r="4.8" fill="#000" stroke="none" stroke-width="1"/>
<circle cx="739.00" cy="224.90" r="4.8" fill="#000" stroke="none" stroke-width="1"/>
<circle cx="721.60" cy="239.80" r="4.8" fill="#000" stroke="none" stroke-width="1"/>
<circle cx="733.10" cy="243.80" r="4.8" fill="#000" stroke="none" stroke-width="1"/>
<circle cx="750.50" cy="243.80" r="4.8" fill="#000" stroke="none" stroke-width="1"/>
<circle cx="756.50" cy="243.80" r="4.8" fill="#000" stroke="none" stroke-width="1"/>
<circle cx="725.30" cy="251.60" r="4.8" fill="#000" stroke="none" stroke-width="1"/>
<circle cx="727.60" cy="250.50" r="4.8" fill="#000" stroke="none" stroke-width="1"/>
<circle cx="730.20" cy="256.50" r="4.8" fill="#000" stroke="none" stroke-width="1"/>
<circle cx="738.10" cy="252.20" r="4.8" fill="#000" stroke="none" stroke-width="1"/>
<circle cx="744.50" cy="252.20" r="4.8" fill="#000" stroke="none" stroke-width="1"/>
<circle cx="741.70" cy="263.20" r="4.8" fill="#000" stroke="none" stroke-width="1"/>
<circle cx="747.60" cy="264.40" r="4.8" fill="#000" stroke="none" stroke-width="1"/>
<circle cx="735.90" cy="269.20" r="4.8" fill="#000" stroke="none" stroke-width="1"/>
<circle cx="753.60" cy="268.20" r="4.8" fill="#000" stroke="none" stroke-width="1"/>
<circle cx="805.90" cy="172.10" r="4.8" fill="#000" stroke="none" stroke-width="1"/>
<circle cx="793.60" cy="183.40" r="4.8" fill="#000" stroke="none" stroke-width="1"/>
<circle cx="798.10" cy="181.10" r="4.8" fill="#000" stroke="none" stroke-width="1"/>
<circle cx="801.40" cy="192.20" r="4.8" fill="#000" stroke="none" stroke-width="1"/>
<circle cx="810.20" cy="193.10" r="4.8" fill="#000" stroke="none" stroke-width="1"/>
<circle cx="810.20" cy="206.20" r="4.8" fill="#000" stroke="none" stroke-width="1"/>
<circle cx="818.00" cy="210.30" r="4.8" fill="#000" stroke="none" stroke-width="1"/>
<circle cx="785.20" cy="226.30" r="4.8" fill="#000" stroke="none" stroke-width="1"/>
<circle cx="793.60" cy="227.30" r="4.8" fill="#000" stroke="none" stroke-width="1"/>
<circle cx="801.40" cy="224.30" r="4.8" fill="#000" stroke="none" stroke-width="1"/>
<circle cx="801.40" cy="230.20" r="4.8" fill="#000" stroke="none" stroke-width="1"/>
<circle cx="793.60" cy="235.10" r="4.8" fill="#000" stroke="none" stroke-width="1"/>
<circle cx="809.80" cy="231.60" r="4.8" fill="#000" stroke="none" stroke-width="1"/>
<text transform="translate(735,373.8) rotate(-45)" font-size="37">Cl</text>
<text transform="translate(785,371.3) rotate(-45)" font-size="37">NO</text>
<text transform="translate(746.7,336.8) rotate(-45)" font-size="18">-</text>
<text transform="translate(829,337.0) rotate(-45)" font-size="18">3</text>
<text transform="translate(818.5,312.4) rotate(-45)" font-size="18">-</text>
<text transform="translate(594,311.8) rotate(-90)" font-size="41.5">Unitary current</text>
<text transform="translate(633,304.3) rotate(-90)" font-size="41.5">amplitude (fA)</text>
<line x1="707.40" y1="399.00" x2="707.40" y2="679.50" stroke="#000" stroke-width="1.8"/>
<line x1="706.80" y1="678.70" x2="836.60" y2="678.70" stroke="#000" stroke-width="2.0"/>
<text x="700.50" y="690.90" font-size="33" text-anchor="end" fill="#000">0</text>
<line x1="707.40" y1="618.03" x2="713.40" y2="618.03" stroke="#000" stroke-width="1.8"/>
<text x="700.50" y="630.90" font-size="33" text-anchor="end" fill="#000">25</text>
<line x1="707.40" y1="557.35" x2="713.40" y2="557.35" stroke="#000" stroke-width="1.8"/>
<text x="700.50" y="570.90" font-size="33" text-anchor="end" fill="#000">50</text>
<line x1="707.40" y1="496.68" x2="713.40" y2="496.68" stroke="#000" stroke-width="1.8"/>
<text x="700.50" y="508.10" font-size="33" text-anchor="end" fill="#000">75</text>
<line x1="707.40" y1="436.00" x2="713.40" y2="436.00" stroke="#000" stroke-width="1.8"/>
<text x="700.50" y="448.10" font-size="33" text-anchor="end" fill="#000">100</text>
<line x1="739.80" y1="678.70" x2="739.80" y2="673.50" stroke="#000" stroke-width="1.8"/>
<line x1="803.80" y1="678.70" x2="803.80" y2="673.50" stroke="#000" stroke-width="1.8"/>
<text x="718.60" y="489.70" font-size="20.5" text-anchor="start" fill="#000">p = 5.2 x 10</text>
<text x="827.20" y="478.80" font-size="11.2" text-anchor="start" fill="#000">-4</text>
<polyline points="740.50,508.40 740.50,495.40 791.25,495.40 791.25,507.40" fill="none" stroke="#000" stroke-width="1.3" stroke-linejoin="round"/>
<rect x="718.90" y="609.20" width="41.50" height="21.10" fill="#fdc1c2" stroke="#999" stroke-width="1"/>
<line x1="718.90" y1="620.90" x2="760.40" y2="620.90" stroke="#777" stroke-width="1"/>
<rect x="783.40" y="571.20" width="41.40" height="20.50" fill="#fff" stroke="#888" stroke-width="1"/>
<line x1="793.00" y1="576.00" x2="814.00" y2="576.00" stroke="#444" stroke-width="1"/>
<line x1="783.40" y1="582.50" x2="812.00" y2="582.50" stroke="#444" stroke-width="1" stroke-dasharray="2,2"/>
<line x1="783.40" y1="584.50" x2="824.80" y2="584.50" stroke="#444" stroke-width="1"/>
<line x1="793.00" y1="587.80" x2="814.00" y2="587.80" stroke="#444" stroke-width="1"/>
<circle cx="744.50" cy="583.30" r="4.8" fill="#000" stroke="none" stroke-width="1"/>
<circle cx="735.10" cy="591.10" r="4.8" fill="#000" stroke="none" stroke-width="1"/>
<circle cx="740.00" cy="597.90" r="4.8" fill="#000" stroke="none" stroke-width="1"/>
<circle cx="725.30" cy="610.60" r="4.8" fill="#000" stroke="none" stroke-width="1"/>
<circle cx="735.10" cy="609.20" r="4.8" fill="#000" stroke="none" stroke-width="1"/>
<circle cx="753.00" cy="615.10" r="4.8" fill="#000" stroke="none" stroke-width="1"/>
<circle cx="721.10" cy="621.90" r="4.8" fill="#000" stroke="none" stroke-width="1"/>
<circle cx="730.20" cy="625.80" r="4.8" fill="#000" stroke="none" stroke-width="1"/>
<circle cx="740.00" cy="622.90" r="4.8" fill="#000" stroke="none" stroke-width="1"/>
<circle cx="744.50" cy="625.40" r="4.8" fill="#000" stroke="none" stroke-width="1"/>
<circle cx="748.70" cy="630.10" r="4.8" fill="#000" stroke="none" stroke-width="1"/>
<circle cx="758.10" cy="621.90" r="4.8" fill="#000" stroke="none" stroke-width="1"/>
<circle cx="735.10" cy="641.80" r="4.8" fill="#000" stroke="none" stroke-width="1"/>
<circle cx="740.00" cy="649.20" r="4.8" fill="#000" stroke="none" stroke-width="1"/>
<circle cx="744.50" cy="651.10" r="4.8" fill="#000" stroke="none" stroke-width="1"/>
<circle cx="800.40" cy="558.10" r="4.8" fill="#000" stroke="none" stroke-width="1"/>
<circle cx="786.40" cy="564.40" r="4.8" fill="#000" stroke="none" stroke-width="1"/>
<circle cx="793.60" cy="567.30" r="4.8" fill="#000" stroke="none" stroke-width="1"/>
<circle cx="814.10" cy="576.10" r="4.8" fill="#000" stroke="none" stroke-width="1"/>
<circle cx="807.20" cy="580.00" r="4.8" fill="#000" stroke="none" stroke-width="1"/>
<circle cx="821.30" cy="580.90" r="4.8" fill="#000" stroke="none" stroke-width="1"/>
<circle cx="789.70" cy="591.70" r="4.8" fill="#000" stroke="none" stroke-width="1"/>
<circle cx="796.90" cy="591.10" r="4.8" fill="#000" stroke="none" stroke-width="1"/>
<circle cx="803.90" cy="587.80" r="4.8" fill="#000" stroke="none" stroke-width="1"/>
<circle cx="817.60" cy="587.80" r="4.8" fill="#000" stroke="none" stroke-width="1"/>
<circle cx="810.50" cy="598.50" r="4.8" fill="#000" stroke="none" stroke-width="1"/>
<circle cx="803.90" cy="614.50" r="4.8" fill="#000" stroke="none" stroke-width="1"/>
<text transform="translate(735,751.9000000000001) rotate(-45)" font-size="37">Cl</text>
<text transform="translate(788.5,749.4000000000001) rotate(-45)" font-size="37">NO</text>
<text transform="translate(746.7,714.9000000000001) rotate(-45)" font-size="18">-</text>
<text transform="translate(832.5,715.1) rotate(-45)" font-size="18">3</text>
<text transform="translate(822.0,690.5) rotate(-45)" font-size="18">-</text>
<text transform="translate(596,599.1) rotate(-90)" font-size="41.5">Open</text>
<text transform="translate(631.4,681) rotate(-90)" font-size="41.5">probabitily (%)</text>
<line x1="991.20" y1="56.00" x2="991.20" y2="299.60" stroke="#000" stroke-width="1.8"/>
<line x1="990.40" y1="298.80" x2="1303.00" y2="298.80" stroke="#000" stroke-width="2.0"/>
<text x="987.00" y="311.60" font-size="36.5" text-anchor="end" fill="#000">0.0</text>
<line x1="991.20" y1="258.20" x2="998.00" y2="258.20" stroke="#000" stroke-width="1.8"/>
<text x="987.00" y="271.10" font-size="36.5" text-anchor="end" fill="#000">0.2</text>
<line x1="991.20" y1="217.70" x2="998.00" y2="217.70" stroke="#000" stroke-width="1.8"/>
<text x="987.00" y="230.60" font-size="36.5" text-anchor="end" fill="#000">0.4</text>
<line x1="991.20" y1="177.20" x2="998.00" y2="177.20" stroke="#000" stroke-width="1.8"/>
<text x="987.00" y="190.10" font-size="36.5" text-anchor="end" fill="#000">0.6</text>
<line x1="991.20" y1="136.70" x2="998.00" y2="136.70" stroke="#000" stroke-width="1.8"/>
<text x="987.00" y="149.60" font-size="36.5" text-anchor="end" fill="#000">0.8</text>
<line x1="991.20" y1="96.20" x2="998.00" y2="96.20" stroke="#000" stroke-width="1.8"/>
<text x="987.00" y="109.10" font-size="36.5" text-anchor="end" fill="#000">1.0</text>
<line x1="1005.00" y1="298.80" x2="1005.00" y2="292.20" stroke="#000" stroke-width="1.4"/>
<text x="1006.00" y="335.00" font-size="36.5" text-anchor="middle" fill="#000">0</text>
<line x1="1061.90" y1="298.80" x2="1061.90" y2="292.20" stroke="#000" stroke-width="1.4"/>
<text x="1064.00" y="335.00" font-size="36.5" text-anchor="middle" fill="#000">20</text>
<line x1="1118.80" y1="298.80" x2="1118.80" y2="292.20" stroke="#000" stroke-width="1.4"/>
<text x="1119.90" y="335.00" font-size="36.5" text-anchor="middle" fill="#000">40</text>
<line x1="1175.70" y1="298.80" x2="1175.70" y2="292.20" stroke="#000" stroke-width="1.4"/>
<text x="1176.90" y="335.00" font-size="36.5" text-anchor="middle" fill="#000">60</text>
<line x1="1232.60" y1="298.80" x2="1232.60" y2="292.20" stroke="#000" stroke-width="1.4"/>
<text x="1232.10" y="335.00" font-size="36.5" text-anchor="middle" fill="#000">80</text>
<line x1="1289.50" y1="298.80" x2="1289.50" y2="292.20" stroke="#000" stroke-width="1.4"/>
<text x="1290.80" y="335.00" font-size="36.5" text-anchor="middle" fill="#000">100</text>
<text x="949.30" y="365.80" font-size="41.5" text-anchor="start" fill="#000">Filter frequency (kHz)</text>
<text transform="translate(924.4,276) rotate(-90)" font-size="41.5">Norm. StD</text>
<rect x="1218.40" y="246.90" width="60.50" height="36.50" fill="#ffdecc" stroke="none" stroke-width="1"/>
<line x1="1144.30" y1="148.30" x2="1335.70" y2="148.30" stroke="#c00000" stroke-width="1.9"/>
<polyline points="1144.30,151.30 1171.60,151.30" fill="none" stroke="#333" stroke-width="0.9" stroke-linejoin="round"/>
<polyline points="1171.60,151.30 1172.30,155.00 1173.00,200.00 1173.20,226.00" fill="none" stroke="#aaa" stroke-width="0.9" stroke-linejoin="round"/>
<polyline points="1173.20,226.00 1173.50,245.00 1174.50,258.00 1176.50,262.50 1180.00,263.60 1180.00,264.67 1180.50,262.83 1181.00,264.12 1181.50,265.06 1182.00,263.14 1182.50,263.28 1183.00,264.26 1183.50,264.02 1184.00,264.34 1184.50,264.75 1185.00,263.22 1185.50,263.54 1186.00,263.52 1186.50,262.92 1187.00,264.93 1187.50,264.68 1188.00,264.52 1188.50,262.82 1189.00,264.83 1189.50,264.59 1190.00,263.92 1190.50,264.58 1191.00,263.89 1191.50,263.34 1192.00,263.05 1192.50,263.36 1193.00,262.89 1193.50,263.61 1194.00,264.60 1194.50,264.47 1195.00,264.83 1195.50,264.51 1196.00,263.44 1196.50,264.13 1197.00,263.85 1197.50,264.69 1198.00,264.06 1198.50,263.44 1199.00,264.34 1199.50,265.12 1200.00,263.32 1200.50,264.91 1201.00,262.84 1201.50,263.42 1202.00,263.37 1202.50,264.59 1203.00,265.07 1203.50,264.59 1204.00,263.58 1204.50,264.91 1205.00,263.59 1205.50,263.37 1206.00,264.98 1206.50,264.31 1207.00,264.46 1207.50,264.40 1208.00,265.15 1208.50,263.93 1209.00,264.82 1209.50,264.47 1210.00,264.86 1210.50,263.85 1211.00,264.54 1211.50,264.17 1212.00,263.54 1212.50,263.31 1213.00,264.29 1213.50,262.99 1214.00,264.99 1214.50,263.15 1215.00,262.86 1215.50,263.06 1216.00,265.03 1216.50,263.63 1217.00,263.14 1217.50,262.87" fill="none" stroke="#111" stroke-width="1.3" stroke-linejoin="round"/>
<polyline points="1218.00,264.15 1218.45,266.49 1218.90,266.28 1219.35,266.51 1219.80,266.65 1220.25,264.24 1220.70,266.13 1221.15,265.31 1221.60,266.94 1222.05,266.95 1222.50,267.21 1222.95,264.24 1223.40,267.12 1223.85,267.29 1224.30,267.40 1224.75,264.39 1225.20,264.74 1225.65,264.40 1226.10,264.12 1226.55,267.05 1227.00,266.92 1227.45,266.28 1227.90,266.97 1228.35,266.27 1228.80,265.03 1229.25,264.36 1229.70,264.35 1230.15,266.73 1230.60,264.74 1231.05,265.15 1231.50,265.53 1231.95,264.08 1232.40,264.92 1232.85,265.02 1233.30,266.58 1233.75,265.32 1234.20,265.15 1234.65,267.47 1235.10,265.81 1235.55,267.06 1236.00,266.23 1236.45,264.11 1236.90,265.49 1237.35,265.57 1237.80,266.78 1238.25,265.25 1238.70,266.54 1239.15,265.94 1239.60,264.78 1240.05,267.10 1240.50,264.33 1240.95,266.95 1241.40,264.61 1241.85,264.00 1242.30,264.73 1242.75,266.74 1243.20,267.52 1243.65,264.02 1244.10,265.77 1244.55,265.77 1245.00,266.87 1245.45,264.66 1245.90,265.78 1246.35,265.25 1246.80,266.99 1247.25,264.94 1247.70,267.40 1248.15,265.02 1248.60,264.77 1249.05,266.52 1249.50,265.79 1249.95,264.40 1250.40,266.29 1250.85,264.29 1251.30,266.84 1251.75,266.51 1252.20,266.83 1252.65,266.26 1253.10,265.28 1253.55,265.44 1254.00,265.42 1254.45,267.21 1254.90,264.31 1255.35,267.20 1255.80,264.09 1256.25,264.74 1256.70,264.95 1257.15,267.24 1257.60,265.80 1258.05,265.37 1258.50,267.18 1258.95,264.84 1259.40,265.66 1259.85,265.91 1260.30,266.72 1260.75,266.71 1261.20,266.33 1261.65,265.25 1262.10,265.18 1262.55,264.56 1263.00,267.04 1263.45,266.38 1263.90,266.67 1264.35,264.61 1264.80,265.58 1265.25,266.78 1265.70,266.09 1266.15,264.45 1266.60,265.66 1267.05,267.19 1267.50,264.86 1267.95,264.69 1268.40,265.09 1268.85,266.53 1269.30,267.04 1269.75,264.56 1270.20,264.56 1270.65,264.89 1271.10,265.18 1271.55,265.88 1272.00,264.58 1272.45,265.18 1272.90,264.68 1273.35,267.51 1273.80,266.62 1274.25,264.37 1274.70,267.46 1275.15,264.37 1275.60,265.38 1276.05,267.54 1276.50,266.86 1276.95,266.64 1277.40,265.57 1277.85,264.71 1278.30,266.30 1278.75,264.38 1279.20,264.74 1279.65,265.40 1280.10,264.12" fill="none" stroke="#d8201c" stroke-width="1.7" stroke-linejoin="round"/>
<polyline points="1280.30,265.50 1280.30,200.00 1280.60,162.00 1282.00,157.40 1285.00,156.00 1307.40,155.60 1307.60,150.60 1335.70,150.60" fill="none" stroke="#222" stroke-width="0.9" stroke-linejoin="round"/>
<defs><radialGradient id="yg" cx="1212" cy="166" r="66" gradientUnits="userSpaceOnUse"><stop offset="0" stop-color="#f1f19a"/><stop offset="0.45" stop-color="#f7f7c8"/><stop offset="1" stop-color="#ffffff"/></radialGradient></defs>
<rect x="1203" y="157" width="62" height="88" fill="url(#yg)"/>
<rect x="1200" y="160" width="62" height="82" fill="none"/>
<polygon points="1199,155.9 1208.4,159.8 1201.3,228 1198.7,236.5 1192.2,232.6" fill="#c8c8c8" stroke="#333" stroke-width="0.7"/>
<polygon points="1257.2,180.6 1267.6,183.2 1221.4,243.6 1218,244.6 1215.6,238.4" fill="#c8c8c8" stroke="#333" stroke-width="0.7"/>
<line x1="1199.00" y1="155.90" x2="1267.60" y2="183.20" stroke="#333" stroke-width="0.8"/>
<path d="M1201.6,228.5 C1200,236 1203,243.2 1208,243.2 C1213,243.2 1215.6,239.5 1215.8,236.2" fill="none" stroke="#888" stroke-width="4.6"/>
<path d="M1201.6,228.5 C1200,236 1203,243.2 1208,243.2 C1213,243.2 1215.6,239.5 1215.8,236.2" fill="none" stroke="#fff" stroke-width="3.2"/>
<text x="1205.60" y="196.60" font-size="21.5" text-anchor="start" fill="#000">NO</text>
<text x="1238.00" y="200.50" font-size="12.5" text-anchor="start" fill="#000">3</text>
<text x="1244.40" y="185.70" font-size="12" text-anchor="start" fill="#000">-</text>
<line x1="1138.90" y1="241.90" x2="1138.90" y2="262.90" stroke="#000" stroke-width="1.4"/>
<line x1="1138.90" y1="262.90" x2="1166.00" y2="262.90" stroke="#000" stroke-width="1.4"/>
<text transform="translate(1131.6,285.2) rotate(-90)" font-size="20.5">100 pA</text>
<text x="1134.70" y="285.50" font-size="20.5" text-anchor="start" fill="#000">50 ms</text>
<polyline points="1008.90,248.70 1021.90,188.20 1034.60,162.90 1048.30,145.30 1062.90,134.60 1091.20,121.50 1116.50,115.10 1160.00,107.30 1200.00,102.50 1232.00,99.00 1286.10,95.50" fill="none" stroke="#2e1c90" stroke-width="1.3" stroke-linejoin="round"/>
<polyline points="1008.90,271.20 1015.00,240.00 1025.00,210.00 1043.40,189.20 1062.90,168.70 1091.20,151.20 1116.50,139.50 1160.00,122.90 1200.00,112.00 1232.00,105.00 1286.10,95.50" fill="none" stroke="#ff0000" stroke-width="1.5" stroke-linejoin="round"/>
<polyline points="1008.30,258.50 1020.00,210.00 1031.70,188.20 1048.30,163.80 1062.90,151.20 1091.20,134.60 1116.50,125.40 1160.00,113.10 1200.00,105.50 1232.00,100.50 1286.10,95.50" fill="none" stroke="#000" stroke-width="2.0" stroke-linejoin="round"/>
<text x="1126.00" y="100.50" font-size="21.3" text-anchor="start" fill="#2e1c90">40 µs</text>
<text x="1229.60" y="88.60" font-size="21.3" text-anchor="start" fill="#000">28 µs</text>
<text x="1042.40" y="212.30" font-size="21.3" text-anchor="start" fill="#ff0000">20 µs</text>
<circle cx="1059.00" cy="118.40" r="5.0" fill="#000" stroke="none" stroke-width="1"/>
<circle cx="1059.00" cy="146.30" r="5.0" fill="#000" stroke="none" stroke-width="1"/>
<circle cx="1059.00" cy="149.50" r="5.0" fill="#000" stroke="none" stroke-width="1"/>
<circle cx="1059.00" cy="152.30" r="5.0" fill="#000" stroke="none" stroke-width="1"/>
<circle cx="1059.00" cy="168.10" r="5.0" fill="#000" stroke="none" stroke-width="1"/>
<circle cx="1059.00" cy="180.80" r="5.0" fill="#000" stroke="none" stroke-width="1"/>
<circle cx="1116.90" cy="105.70" r="5.0" fill="#000" stroke="none" stroke-width="1"/>
<circle cx="1116.90" cy="122.90" r="5.0" fill="#000" stroke="none" stroke-width="1"/>
<circle cx="1116.90" cy="126.00" r="5.0" fill="#000" stroke="none" stroke-width="1"/>
<circle cx="1116.90" cy="138.50" r="5.0" fill="#000" stroke="none" stroke-width="1"/>
<circle cx="1116.90" cy="142.00" r="5.0" fill="#000" stroke="none" stroke-width="1"/>
<circle cx="1030.30" cy="130.70" r="5.0" fill="#000" stroke="none" stroke-width="1"/>
<circle cx="1024.90" cy="135.60" r="5.0" fill="#000" stroke="none" stroke-width="1"/>
<circle cx="1013.20" cy="150.80" r="5.0" fill="#000" stroke="none" stroke-width="1"/>
<circle cx="1007.30" cy="166.80" r="5.0" fill="#000" stroke="none" stroke-width="1"/>
<circle cx="1030.30" cy="164.80" r="5.0" fill="#000" stroke="none" stroke-width="1"/>
<circle cx="1023.90" cy="169.70" r="5.0" fill="#000" stroke="none" stroke-width="1"/>
<circle cx="1029.70" cy="172.60" r="5.0" fill="#000" stroke="none" stroke-width="1"/>
<circle cx="1024.90" cy="177.50" r="5.0" fill="#000" stroke="none" stroke-width="1"/>
<circle cx="1004.40" cy="181.40" r="5.0" fill="#000" stroke="none" stroke-width="1"/>
<circle cx="1013.20" cy="184.30" r="5.0" fill="#000" stroke="none" stroke-width="1"/>
<circle cx="1030.30" cy="186.60" r="5.0" fill="#000" stroke="none" stroke-width="1"/>
<circle cx="1006.30" cy="197.00" r="5.0" fill="#000" stroke="none" stroke-width="1"/>
<circle cx="1012.20" cy="193.20" r="5.0" fill="#000" stroke="none" stroke-width="1"/>
<circle cx="1009.30" cy="204.90" r="5.0" fill="#000" stroke="none" stroke-width="1"/>
<circle cx="1013.20" cy="208.80" r="5.0" fill="#000" stroke="none" stroke-width="1"/>
<circle cx="1003.40" cy="211.70" r="5.0" fill="#000" stroke="none" stroke-width="1"/>
<circle cx="1004.40" cy="216.60" r="5.0" fill="#000" stroke="none" stroke-width="1"/>
<circle cx="1012.20" cy="220.50" r="5.0" fill="#000" stroke="none" stroke-width="1"/>
<circle cx="1004.40" cy="226.30" r="5.0" fill="#000" stroke="none" stroke-width="1"/>
<circle cx="1006.30" cy="237.00" r="5.0" fill="#000" stroke="none" stroke-width="1"/>
<circle cx="1004.40" cy="250.70" r="5.0" fill="#000" stroke="none" stroke-width="1"/>
<circle cx="1024.90" cy="175.60" r="5.0" fill="#000" stroke="none" stroke-width="1"/>
<circle cx="1024.90" cy="191.20" r="5.0" fill="#000" stroke="none" stroke-width="1"/>
<circle cx="1030.70" cy="186.30" r="5.0" fill="#000" stroke="none" stroke-width="1"/>
<circle cx="1024.90" cy="207.80" r="5.0" fill="#000" stroke="none" stroke-width="1"/>
<circle cx="1030.70" cy="203.30" r="5.0" fill="#000" stroke="none" stroke-width="1"/>
<circle cx="1029.70" cy="168.80" r="5.0" fill="#000" stroke="none" stroke-width="1"/>
<circle cx="1232.00" cy="96.00" r="5.0" fill="#000" stroke="none" stroke-width="1"/>
<circle cx="1232.00" cy="98.50" r="5.0" fill="#000" stroke="none" stroke-width="1"/>
<circle cx="1232.00" cy="101.50" r="5.0" fill="#000" stroke="none" stroke-width="1"/>
<circle cx="1286.10" cy="95.50" r="5.0" fill="#000" stroke="none" stroke-width="1"/>
<circle cx="1005.90" cy="192.70" r="5.0" fill="#000" stroke="none" stroke-width="1"/>
<circle cx="1013.20" cy="192.70" r="5.0" fill="#000" stroke="none" stroke-width="1"/>
<circle cx="1004.10" cy="205.50" r="5.0" fill="#000" stroke="none" stroke-width="1"/>
<circle cx="1004.10" cy="212.80" r="5.0" fill="#000" stroke="none" stroke-width="1"/>
<circle cx="1013.20" cy="207.30" r="5.0" fill="#000" stroke="none" stroke-width="1"/>
<circle cx="1013.20" cy="220.00" r="5.0" fill="#000" stroke="none" stroke-width="1"/>
<circle cx="1005.90" cy="225.50" r="5.0" fill="#000" stroke="none" stroke-width="1"/>
<circle cx="1009.60" cy="218.20" r="5.0" fill="#000" stroke="none" stroke-width="1"/>
<circle cx="1008.00" cy="200.00" r="5.0" fill="#000" stroke="none" stroke-width="1"/>
<circle cx="1010.50" cy="231.00" r="5.0" fill="#000" stroke="none" stroke-width="1"/>
<polyline points="904.20,481.50 961.80,481.50 961.80,496.40 1134.10,496.40 1134.10,466.90" fill="none" stroke="#333" stroke-width="1.0" stroke-linejoin="round"/>
<line x1="1134.10" y1="466.90" x2="1247.40" y2="466.90" stroke="#999" stroke-width="1.0"/>
<line x1="1134.10" y1="470.30" x2="1247.40" y2="470.30" stroke="#222" stroke-width="1.0"/>
<line x1="1134.10" y1="474.20" x2="1247.40" y2="474.20" stroke="#999" stroke-width="1.0"/>
<line x1="1134.10" y1="477.70" x2="1247.40" y2="477.70" stroke="#222" stroke-width="1.0"/>
<line x1="1134.10" y1="481.40" x2="1247.40" y2="481.40" stroke="#999" stroke-width="1.0"/>
<line x1="1134.10" y1="485.30" x2="1247.40" y2="485.30" stroke="#222" stroke-width="1.0"/>
<line x1="1134.10" y1="488.80" x2="1247.40" y2="488.80" stroke="#999" stroke-width="1.0"/>
<line x1="1134.10" y1="492.40" x2="1247.40" y2="492.40" stroke="#222" stroke-width="1.0"/>
<line x1="1247.40" y1="466.90" x2="1247.40" y2="492.40" stroke="#999" stroke-width="1.0"/>
<line x1="1247.40" y1="481.40" x2="1302.90" y2="481.40" stroke="#333" stroke-width="1.0"/>
<text x="908.50" y="478.90" font-size="23.3" text-anchor="start" fill="#000">0 mV</text>
<text x="1150.80" y="464.70" font-size="23.3" text-anchor="start" fill="#000">+160 mV</text>
<text x="1251.90" y="478.90" font-size="23.3" text-anchor="start" fill="#000">0 mV</text>
<text x="1010.20" y="516.40" font-size="23.3" text-anchor="start" fill="#000">-160 mV</text>
<text x="1154.30" y="513.50" font-size="23.3" text-anchor="start" fill="#000">-120 mV</text>
<line x1="906.10" y1="552.00" x2="964.10" y2="552.00" stroke="#111" stroke-width="1.4"/>
<line x1="964.10" y1="552.00" x2="1133.00" y2="552.00" stroke="#ff2a2a" stroke-width="1.8" stroke-dasharray="5,1"/>
<line x1="1133.00" y1="552.00" x2="1302.00" y2="552.00" stroke="#ff2020" stroke-width="1.3"/>
<line x1="964.10" y1="540.30" x2="964.10" y2="571.50" stroke="#000" stroke-width="1.4"/>
<polyline points="964.80,552.00 965.20,552.00 965.70,562.31 966.20,571.39 966.70,579.39 967.20,586.45 967.70,592.69 968.20,598.22 968.70,603.12 969.20,607.48 969.70,611.36 970.20,614.82 970.70,617.92 971.20,620.69 971.70,623.19 972.20,625.45 972.70,627.49 973.20,629.35 973.70,631.04 974.20,632.59 974.70,634.01 975.20,635.31 975.70,636.52 976.20,637.65 976.70,638.70 977.20,639.68 977.70,640.60 978.20,641.47 978.70,642.29 979.20,643.07 979.70,643.81 980.20,644.52 980.70,645.20 981.20,645.85 981.70,646.48 982.20,647.08 982.70,647.67 983.20,648.24 983.70,648.79 984.20,649.32 984.70,649.85 985.20,650.36 985.70,650.69 986.20,651.81 986.70,652.13 987.20,652.28 987.70,652.95 988.20,653.13 988.70,653.06 989.20,654.23 989.70,654.33 990.20,655.29 990.70,655.97 991.20,655.61 991.70,656.23 992.20,656.91 992.70,656.77 993.20,656.84 993.70,658.00 994.20,658.62 994.70,658.82 995.20,659.06 995.70,659.65 996.20,659.72 996.70,660.01 997.20,660.04 997.70,660.15 998.20,660.99 998.70,660.46 999.20,661.30 999.70,662.19 1000.20,662.39 1000.70,662.57 1001.20,662.26 1001.70,662.84 1002.20,663.18 1002.70,663.74 1003.20,663.69 1003.70,664.40 1004.20,665.08 1004.70,664.16 1005.20,665.19 1005.70,665.65 1006.20,665.29 1006.70,665.72 1007.20,666.75 1007.70,665.51 1008.20,666.56 1008.70,666.20 1009.20,667.44 1009.70,667.93 1010.20,667.49 1010.70,667.06 1011.20,668.05 1011.70,668.22 1012.20,668.73 1012.70,668.62 1013.20,669.05 1013.70,669.57 1014.20,669.29 1014.70,669.32 1015.20,670.39 1015.70,669.41 1016.20,670.37 1016.70,670.10 1017.20,670.89 1017.70,670.06 1018.20,671.63 1018.70,670.82 1019.20,670.52 1019.70,671.06 1020.20,671.44 1020.70,671.00 1021.20,671.82 1021.70,672.00 1022.20,672.62 1022.70,672.23 1023.20,672.26 1023.70,672.36 1024.20,673.35 1024.70,673.83 1025.20,673.33 1025.70,672.99 1026.20,674.08 1026.70,673.57 1027.20,673.44 1027.70,673.45 1028.20,674.63 1028.70,674.83 1029.20,674.69 1029.70,674.57 1030.20,674.86 1030.70,674.46 1031.20,675.77 1031.70,674.93 1032.20,675.52 1032.70,675.93 1033.20,676.06 1033.70,675.63 1034.20,675.47 1034.70,676.00 1035.20,675.45 1035.70,676.70 1036.20,676.05 1036.70,676.96 1037.20,676.14 1037.70,676.43 1038.20,676.34 1038.70,676.73 1039.20,676.46 1039.70,676.27 1040.20,677.53 1040.70,676.93 1041.20,676.97 1041.70,677.16 1042.20,677.55 1042.70,677.57 1043.20,678.00 1043.70,678.13 1044.20,677.75 1044.70,678.75 1045.20,678.72 1045.70,677.54 1046.20,678.86 1046.70,679.08 1047.20,678.97 1047.70,678.03 1048.20,679.22 1048.70,678.98 1049.20,678.08 1049.70,678.15 1050.20,679.74 1050.70,679.35 1051.20,678.78 1051.70,678.62 1052.20,678.76 1052.70,678.98 1053.20,679.92 1053.70,679.31 1054.20,679.07 1054.70,680.35 1055.20,680.24 1055.70,679.31 1056.20,680.53 1056.70,680.15 1057.20,680.49 1057.70,680.38 1058.20,680.80 1058.70,680.70 1059.20,680.84 1059.70,679.88 1060.20,680.74 1060.70,680.54 1061.20,680.94 1061.70,680.51 1062.20,681.28 1062.70,680.81 1063.20,680.40 1063.70,680.41 1064.20,680.32 1064.70,680.94 1065.20,680.30 1065.70,681.00 1066.20,680.54 1066.70,681.15 1067.20,681.21 1067.70,681.33 1068.20,681.89 1068.70,680.57 1069.20,681.96 1069.70,681.41 1070.20,681.61 1070.70,681.82 1071.20,682.14 1071.70,681.44 1072.20,681.56 1072.70,682.47 1073.20,681.10 1073.70,682.04 1074.20,682.08 1074.70,681.15 1075.20,682.12 1075.70,682.28 1076.20,682.72 1076.70,681.79 1077.20,682.88 1077.70,682.16 1078.20,682.16 1078.70,682.86 1079.20,681.51 1079.70,682.64 1080.20,682.53 1080.70,682.11 1081.20,682.98 1081.70,682.22 1082.20,682.43 1082.70,682.54 1083.20,682.97 1083.70,682.11 1084.20,682.50 1084.70,682.51 1085.20,682.75 1085.70,683.22 1086.20,682.40 1086.70,683.28 1087.20,682.63 1087.70,682.82 1088.20,682.48 1088.70,682.88 1089.20,683.66 1089.70,683.18 1090.20,683.43 1090.70,682.72 1091.20,682.72 1091.70,682.72 1092.20,683.20 1092.70,683.31 1093.20,683.57 1093.70,682.41 1094.20,683.52 1094.70,683.81 1095.20,683.29 1095.70,682.52 1096.20,682.94 1096.70,682.50 1097.20,682.81 1097.70,684.01 1098.20,683.53 1098.70,683.63 1099.20,683.86 1099.70,684.07 1100.20,683.62 1100.70,683.65 1101.20,683.68 1101.70,683.82 1102.20,683.68 1102.70,683.83 1103.20,683.10 1103.70,683.85 1104.20,683.53 1104.70,684.04 1105.20,683.00 1105.70,683.14 1106.20,682.93 1106.70,684.13 1107.20,684.37 1107.70,683.97 1108.20,683.53 1108.70,684.27 1109.20,684.23 1109.70,683.89 1110.20,683.42 1110.70,683.51 1111.20,683.71 1111.70,683.56 1112.20,683.76 1112.70,684.11 1113.20,684.59 1113.70,683.20 1114.20,684.04 1114.70,683.21 1115.20,683.35 1115.70,684.47 1116.20,684.11 1116.70,684.67 1117.20,683.93 1117.70,683.25 1118.20,683.86 1118.70,684.20 1119.20,684.76 1119.70,684.85 1120.20,684.05 1120.70,683.96 1121.20,683.48 1121.70,684.36 1122.20,683.68 1122.70,683.59 1123.20,683.38 1123.70,683.38 1124.20,684.48 1124.70,683.59 1125.20,684.95 1125.70,683.55 1126.20,684.82 1126.70,683.64 1127.20,683.47 1127.70,684.61 1128.20,683.85 1128.70,684.65 1129.20,683.78 1129.70,683.57 1130.20,684.74 1130.70,684.65 1131.20,684.89 1131.70,684.70 1132.20,683.67 1132.70,684.55 1133.00,683.40" fill="none" stroke="#000" stroke-width="2.1" stroke-linejoin="round"/>
<line x1="1133.00" y1="683.50" x2="1133.00" y2="506.50" stroke="#000" stroke-width="1.3"/>
<polyline points="1133.50,506.20 1134.50,513.49 1135.50,519.42 1136.50,524.24 1137.50,528.18 1138.50,531.41 1139.50,534.07 1140.50,536.26 1141.50,538.08 1142.50,539.60 1143.50,540.88 1144.50,541.95 1145.50,542.86 1146.50,543.64 1147.50,544.32 1148.50,544.90 1149.50,545.41 1150.50,545.86 1151.50,546.26 1152.50,546.61 1153.50,546.93 1154.50,547.22 1155.50,547.49 1156.50,547.73 1157.50,547.95 1158.50,548.16 1159.50,548.35 1160.50,548.53 1161.50,548.70 1162.50,548.85 1163.50,549.00 1164.50,549.14 1165.50,549.27 1166.50,549.39 1167.50,549.51 1168.50,549.62 1169.50,549.72 1170.50,549.82 1171.50,549.92 1172.50,550.01 1173.50,550.09 1174.50,550.17 1175.50,550.25 1176.50,550.32 1177.50,550.39 1178.50,550.46 1179.50,550.53 1180.50,550.59 1181.50,550.64 1182.50,550.70 1183.50,550.75 1184.50,550.80 1185.50,550.85 1186.50,550.90 1187.50,550.94 1188.50,550.98 1189.50,551.02 1190.50,551.06 1191.50,551.09 1192.50,551.13 1193.50,551.16 1194.50,551.19 1195.50,551.22 1196.50,551.25 1197.50,551.28 1198.50,551.31 1199.50,551.33 1200.50,551.36 1201.50,551.38 1202.50,551.40 1203.50,551.42 1204.50,551.44 1205.50,551.46 1206.50,551.48 1207.50,551.50 1208.50,551.52 1209.50,551.53 1210.50,551.55 1211.50,551.56 1212.50,551.58 1213.50,551.59 1214.50,551.60 1215.50,551.62 1216.50,551.63 1217.50,551.64 1218.50,551.65 1219.50,551.66 1220.50,551.67 1221.50,551.68 1222.50,551.69 1223.50,551.70 1224.50,551.71 1225.50,551.72 1226.50,551.73 1227.50,551.74 1228.50,551.74 1229.50,551.75 1230.50,551.76 1231.50,551.76 1232.50,551.77 1233.50,551.78 1234.50,551.78 1235.50,551.79 1236.50,551.79 1237.50,551.80 1238.50,551.80 1239.50,551.81 1240.50,551.81 1241.50,551.82 1242.50,551.82 1243.50,551.83 1244.50,551.83" fill="none" stroke="#111" stroke-width="0.9" stroke-linejoin="round"/>
<polyline points="1133.50,515.20 1134.50,520.51 1135.50,524.91 1136.50,528.57 1137.50,531.62 1138.50,534.16 1139.50,536.29 1140.50,538.08 1141.50,539.59 1142.50,540.87 1143.50,541.96 1144.50,542.88 1145.50,543.68 1146.50,544.37 1147.50,544.96 1148.50,545.48 1149.50,545.94 1150.50,546.34 1151.50,546.70 1152.50,547.02 1153.50,547.31 1154.50,547.57 1155.50,547.80 1156.50,548.02 1157.50,548.22 1158.50,548.40 1159.50,548.57 1160.50,548.73 1161.50,548.88 1162.50,549.02 1163.50,549.15 1164.50,549.27 1165.50,549.38 1166.50,549.49 1167.50,549.60 1168.50,549.70 1169.50,549.79 1170.50,549.88 1171.50,549.96 1172.50,550.04 1173.50,550.12 1174.50,550.19 1175.50,550.26 1176.50,550.33 1177.50,550.39 1178.50,550.45 1179.50,550.51 1180.50,550.57 1181.50,550.62 1182.50,550.67 1183.50,550.72 1184.50,550.77 1185.50,550.82 1186.50,550.86 1187.50,550.90 1188.50,550.94 1189.50,550.98 1190.50,551.02 1191.50,551.05 1192.50,551.08 1193.50,551.12 1194.50,551.15 1195.50,551.18 1196.50,551.21 1197.50,551.23 1198.50,551.26 1199.50,551.29 1200.50,551.31 1201.50,551.33 1202.50,551.36 1203.50,551.38 1204.50,551.40 1205.50,551.42 1206.50,551.44 1207.50,551.46 1208.50,551.47 1209.50,551.49 1210.50,551.51 1211.50,551.52 1212.50,551.54 1213.50,551.55 1214.50,551.57 1215.50,551.58 1216.50,551.59 1217.50,551.61 1218.50,551.62 1219.50,551.63 1220.50,551.64 1221.50,551.65 1222.50,551.66 1223.50,551.67 1224.50,551.68 1225.50,551.69 1226.50,551.70 1227.50,551.71 1228.50,551.72 1229.50,551.72 1230.50,551.73 1231.50,551.74 1232.50,551.75 1233.50,551.75 1234.50,551.76 1235.50,551.77 1236.50,551.77 1237.50,551.78 1238.50,551.78 1239.50,551.79 1240.50,551.80 1241.50,551.80 1242.50,551.81 1243.50,551.81 1244.50,551.82" fill="none" stroke="#111" stroke-width="0.9" stroke-linejoin="round"/>
<polyline points="1133.50,523.20 1134.50,526.99 1135.50,530.18 1136.50,532.88 1137.50,535.17 1138.50,537.11 1139.50,538.76 1140.50,540.16 1141.50,541.37 1142.50,542.40 1143.50,543.28 1144.50,544.05 1145.50,544.71 1146.50,545.29 1147.50,545.79 1148.50,546.24 1149.50,546.63 1150.50,546.98 1151.50,547.28 1152.50,547.56 1153.50,547.81 1154.50,548.04 1155.50,548.24 1156.50,548.43 1157.50,548.60 1158.50,548.76 1159.50,548.90 1160.50,549.04 1161.50,549.17 1162.50,549.29 1163.50,549.40 1164.50,549.50 1165.50,549.60 1166.50,549.70 1167.50,549.79 1168.50,549.87 1169.50,549.95 1170.50,550.03 1171.50,550.10 1172.50,550.17 1173.50,550.23 1174.50,550.30 1175.50,550.36 1176.50,550.42 1177.50,550.47 1178.50,550.53 1179.50,550.58 1180.50,550.63 1181.50,550.67 1182.50,550.72 1183.50,550.76 1184.50,550.81 1185.50,550.85 1186.50,550.88 1187.50,550.92 1188.50,550.96 1189.50,550.99 1190.50,551.03 1191.50,551.06 1192.50,551.09 1193.50,551.12 1194.50,551.15 1195.50,551.18 1196.50,551.20 1197.50,551.23 1198.50,551.25 1199.50,551.28 1200.50,551.30 1201.50,551.32 1202.50,551.34 1203.50,551.36 1204.50,551.38 1205.50,551.40 1206.50,551.42 1207.50,551.44 1208.50,551.46 1209.50,551.47 1210.50,551.49 1211.50,551.50 1212.50,551.52 1213.50,551.53 1214.50,551.55 1215.50,551.56 1216.50,551.57 1217.50,551.59 1218.50,551.60 1219.50,551.61 1220.50,551.62 1221.50,551.63 1222.50,551.64 1223.50,551.65 1224.50,551.66 1225.50,551.67 1226.50,551.68 1227.50,551.69 1228.50,551.70 1229.50,551.71 1230.50,551.71 1231.50,551.72 1232.50,551.73 1233.50,551.74 1234.50,551.74 1235.50,551.75 1236.50,551.76 1237.50,551.76 1238.50,551.77 1239.50,551.78 1240.50,551.78 1241.50,551.79 1242.50,551.79 1243.50,551.80 1244.50,551.80" fill="none" stroke="#111" stroke-width="0.9" stroke-linejoin="round"/>
<polyline points="1133.50,530.20 1134.50,532.83 1135.50,535.07 1136.50,537.00 1137.50,538.65 1138.50,540.07 1139.50,541.30 1140.50,542.36 1141.50,543.27 1142.50,544.06 1143.50,544.75 1144.50,545.35 1145.50,545.88 1146.50,546.34 1147.50,546.75 1148.50,547.11 1149.50,547.43 1150.50,547.71 1151.50,547.97 1152.50,548.20 1153.50,548.40 1154.50,548.59 1155.50,548.76 1156.50,548.92 1157.50,549.06 1158.50,549.19 1159.50,549.31 1160.50,549.43 1161.50,549.53 1162.50,549.63 1163.50,549.72 1164.50,549.81 1165.50,549.89 1166.50,549.97 1167.50,550.04 1168.50,550.11 1169.50,550.18 1170.50,550.24 1171.50,550.30 1172.50,550.36 1173.50,550.42 1174.50,550.47 1175.50,550.52 1176.50,550.57 1177.50,550.61 1178.50,550.66 1179.50,550.70 1180.50,550.74 1181.50,550.78 1182.50,550.82 1183.50,550.86 1184.50,550.89 1185.50,550.93 1186.50,550.96 1187.50,550.99 1188.50,551.02 1189.50,551.05 1190.50,551.08 1191.50,551.11 1192.50,551.14 1193.50,551.16 1194.50,551.19 1195.50,551.21 1196.50,551.24 1197.50,551.26 1198.50,551.28 1199.50,551.30 1200.50,551.32 1201.50,551.34 1202.50,551.36 1203.50,551.38 1204.50,551.40 1205.50,551.42 1206.50,551.43 1207.50,551.45 1208.50,551.46 1209.50,551.48 1210.50,551.49 1211.50,551.51 1212.50,551.52 1213.50,551.54 1214.50,551.55 1215.50,551.56 1216.50,551.57 1217.50,551.58 1218.50,551.60 1219.50,551.61 1220.50,551.62 1221.50,551.63 1222.50,551.64 1223.50,551.65 1224.50,551.66 1225.50,551.67 1226.50,551.68 1227.50,551.68 1228.50,551.69 1229.50,551.70 1230.50,551.71 1231.50,551.72 1232.50,551.72 1233.50,551.73 1234.50,551.74 1235.50,551.74 1236.50,551.75 1237.50,551.76 1238.50,551.76 1239.50,551.77 1240.50,551.77 1241.50,551.78 1242.50,551.79 1243.50,551.79 1244.50,551.80" fill="none" stroke="#111" stroke-width="0.9" stroke-linejoin="round"/>
<polyline points="1133.50,537.20 1134.50,538.83 1135.50,540.24 1136.50,541.47 1137.50,542.53 1138.50,543.46 1139.50,544.27 1140.50,544.97 1141.50,545.59 1142.50,546.13 1143.50,546.60 1144.50,547.02 1145.50,547.39 1146.50,547.71 1147.50,548.00 1148.50,548.26 1149.50,548.49 1150.50,548.70 1151.50,548.88 1152.50,549.05 1153.50,549.20 1154.50,549.34 1155.50,549.47 1156.50,549.58 1157.50,549.69 1158.50,549.79 1159.50,549.88 1160.50,549.96 1161.50,550.04 1162.50,550.12 1163.50,550.18 1164.50,550.25 1165.50,550.31 1166.50,550.37 1167.50,550.42 1168.50,550.48 1169.50,550.53 1170.50,550.57 1171.50,550.62 1172.50,550.66 1173.50,550.70 1174.50,550.74 1175.50,550.78 1176.50,550.82 1177.50,550.85 1178.50,550.89 1179.50,550.92 1180.50,550.95 1181.50,550.98 1182.50,551.01 1183.50,551.04 1184.50,551.07 1185.50,551.09 1186.50,551.12 1187.50,551.14 1188.50,551.17 1189.50,551.19 1190.50,551.21 1191.50,551.23 1192.50,551.25 1193.50,551.28 1194.50,551.29 1195.50,551.31 1196.50,551.33 1197.50,551.35 1198.50,551.37 1199.50,551.39 1200.50,551.40 1201.50,551.42 1202.50,551.43 1203.50,551.45 1204.50,551.46 1205.50,551.48 1206.50,551.49 1207.50,551.50 1208.50,551.52 1209.50,551.53 1210.50,551.54 1211.50,551.55 1212.50,551.56 1213.50,551.58 1214.50,551.59 1215.50,551.60 1216.50,551.61 1217.50,551.62 1218.50,551.63 1219.50,551.64 1220.50,551.65 1221.50,551.65 1222.50,551.66 1223.50,551.67 1224.50,551.68 1225.50,551.69 1226.50,551.69 1227.50,551.70 1228.50,551.71 1229.50,551.72 1230.50,551.72 1231.50,551.73 1232.50,551.74 1233.50,551.74 1234.50,551.75 1235.50,551.75 1236.50,551.76 1237.50,551.77 1238.50,551.77 1239.50,551.78 1240.50,551.78 1241.50,551.79 1242.50,551.79 1243.50,551.80 1244.50,551.80" fill="none" stroke="#111" stroke-width="0.9" stroke-linejoin="round"/>
<polyline points="1133.50,543.20 1134.50,544.08 1135.50,544.84 1136.50,545.52 1137.50,546.11 1138.50,546.63 1139.50,547.08 1140.50,547.49 1141.50,547.84 1142.50,548.16 1143.50,548.44 1144.50,548.69 1145.50,548.91 1146.50,549.11 1147.50,549.29 1148.50,549.44 1149.50,549.59 1150.50,549.72 1151.50,549.83 1152.50,549.94 1153.50,550.04 1154.50,550.13 1155.50,550.21 1156.50,550.28 1157.50,550.35 1158.50,550.42 1159.50,550.48 1160.50,550.53 1161.50,550.58 1162.50,550.63 1163.50,550.68 1164.50,550.72 1165.50,550.76 1166.50,550.80 1167.50,550.84 1168.50,550.87 1169.50,550.90 1170.50,550.94 1171.50,550.97 1172.50,551.00 1173.50,551.02 1174.50,551.05 1175.50,551.08 1176.50,551.10 1177.50,551.13 1178.50,551.15 1179.50,551.17 1180.50,551.19 1181.50,551.21 1182.50,551.23 1183.50,551.25 1184.50,551.27 1185.50,551.29 1186.50,551.31 1187.50,551.33 1188.50,551.34 1189.50,551.36 1190.50,551.37 1191.50,551.39 1192.50,551.40 1193.50,551.42 1194.50,551.43 1195.50,551.45 1196.50,551.46 1197.50,551.47 1198.50,551.49 1199.50,551.50 1200.50,551.51 1201.50,551.52 1202.50,551.53 1203.50,551.54 1204.50,551.56 1205.50,551.57 1206.50,551.58 1207.50,551.59 1208.50,551.60 1209.50,551.60 1210.50,551.61 1211.50,551.62 1212.50,551.63 1213.50,551.64 1214.50,551.65 1215.50,551.66 1216.50,551.66 1217.50,551.67 1218.50,551.68 1219.50,551.69 1220.50,551.69 1221.50,551.70 1222.50,551.71 1223.50,551.71 1224.50,551.72 1225.50,551.73 1226.50,551.73 1227.50,551.74 1228.50,551.74 1229.50,551.75 1230.50,551.76 1231.50,551.76 1232.50,551.77 1233.50,551.77 1234.50,551.78 1235.50,551.78 1236.50,551.79 1237.50,551.79 1238.50,551.79 1239.50,551.80 1240.50,551.80 1241.50,551.81 1242.50,551.81 1243.50,551.82 1244.50,551.82" fill="none" stroke="#111" stroke-width="0.9" stroke-linejoin="round"/>
<polyline points="1133.50,561.10 1134.50,560.24 1135.50,559.51 1136.50,558.89 1137.50,558.36 1138.50,557.92 1139.50,557.54 1140.50,557.21 1141.50,556.94 1142.50,556.71 1143.50,556.51 1144.50,556.34 1145.50,556.20 1146.50,556.07 1147.50,555.97 1148.50,555.88 1149.50,555.80 1150.50,555.74 1151.50,555.68 1152.50,555.63 1153.50,555.59 1154.50,555.55 1155.50,555.52 1156.50,555.50 1157.50,555.47 1158.50,555.45 1159.50,555.43 1160.50,555.42 1161.50,555.40 1162.50,555.39 1163.50,555.38 1164.50,555.37 1165.50,555.36 1166.50,555.35 1167.50,555.35 1168.50,555.34 1169.50,555.33 1170.50,555.33 1171.50,555.32 1172.50,555.32 1173.50,555.31 1174.50,555.31 1175.50,555.30 1176.50,555.30 1177.50,555.30 1178.50,555.29 1179.50,555.29 1180.50,555.29 1181.50,555.28 1182.50,555.28 1183.50,555.28 1184.50,555.27 1185.50,555.27 1186.50,555.27 1187.50,555.26 1188.50,555.26 1189.50,555.26 1190.50,555.26 1191.50,555.25 1192.50,555.25 1193.50,555.25 1194.50,555.24 1195.50,555.24 1196.50,555.24 1197.50,555.24 1198.50,555.24 1199.50,555.23 1200.50,555.23 1201.50,555.23 1202.50,555.23 1203.50,555.22 1204.50,555.22 1205.50,555.22 1206.50,555.22 1207.50,555.22 1208.50,555.21 1209.50,555.21 1210.50,555.21 1211.50,555.21 1212.50,555.21 1213.50,555.21 1214.50,555.20 1215.50,555.20 1216.50,555.20 1217.50,555.20 1218.50,555.20 1219.50,555.20 1220.50,555.19 1221.50,555.19 1222.50,555.19 1223.50,555.19 1224.50,555.19 1225.50,555.19 1226.50,555.18 1227.50,555.18 1228.50,555.18 1229.50,555.18 1230.50,555.18 1231.50,555.18 1232.50,555.18 1233.50,555.18 1234.50,555.17 1235.50,555.17 1236.50,555.17 1237.50,555.17 1238.50,555.17 1239.50,555.17 1240.50,555.17 1241.50,555.17 1242.50,555.17 1243.50,555.16 1244.50,555.16" fill="none" stroke="#111" stroke-width="1.1" stroke-linejoin="round"/>
<polyline points="1133.50,578.00 1134.50,576.15 1135.50,574.58 1136.50,573.23 1137.50,572.09 1138.50,571.11 1139.50,570.28 1140.50,569.56 1141.50,568.95 1142.50,568.43 1143.50,567.98 1144.50,567.59 1145.50,567.26 1146.50,566.98 1147.50,566.73 1148.50,566.52 1149.50,566.33 1150.50,566.17 1151.50,566.03 1152.50,565.91 1153.50,565.80 1154.50,565.70 1155.50,565.62 1156.50,565.54 1157.50,565.48 1158.50,565.41 1159.50,565.36 1160.50,565.31 1161.50,565.26 1162.50,565.22 1163.50,565.18 1164.50,565.15 1165.50,565.11 1166.50,565.08 1167.50,565.05 1168.50,565.02 1169.50,564.99 1170.50,564.97 1171.50,564.94 1172.50,564.92 1173.50,564.90 1174.50,564.88 1175.50,564.85 1176.50,564.83 1177.50,564.81 1178.50,564.79 1179.50,564.77 1180.50,564.76 1181.50,564.74 1182.50,564.72 1183.50,564.70 1184.50,564.69 1185.50,564.67 1186.50,564.65 1187.50,564.64 1188.50,564.62 1189.50,564.61 1190.50,564.59 1191.50,564.58 1192.50,564.56 1193.50,564.55 1194.50,564.53 1195.50,564.52 1196.50,564.51 1197.50,564.49 1198.50,564.48 1199.50,564.47 1200.50,564.45 1201.50,564.44 1202.50,564.43 1203.50,564.42 1204.50,564.40 1205.50,564.39 1206.50,564.38 1207.50,564.37 1208.50,564.36 1209.50,564.35 1210.50,564.34 1211.50,564.33 1212.50,564.32 1213.50,564.31 1214.50,564.30 1215.50,564.29 1216.50,564.28 1217.50,564.27 1218.50,564.26 1219.50,564.25 1220.50,564.24 1221.50,564.23 1222.50,564.22 1223.50,564.21 1224.50,564.20 1225.50,564.20 1226.50,564.19 1227.50,564.18 1228.50,564.17 1229.50,564.16 1230.50,564.16 1231.50,564.15 1232.50,564.14 1233.50,564.13 1234.50,564.13 1235.50,564.12 1236.50,564.11 1237.50,564.11 1238.50,564.10 1239.50,564.09 1240.50,564.09 1241.50,564.08 1242.50,564.07 1243.50,564.07 1244.50,564.06" fill="none" stroke="#111" stroke-width="1.1" stroke-linejoin="round"/>
<polyline points="1133.50,611.80 1134.50,609.67 1135.50,607.86 1136.50,606.31 1137.50,604.99 1138.50,603.86 1139.50,602.89 1140.50,602.06 1141.50,601.35 1142.50,600.74 1143.50,600.22 1144.50,599.77 1145.50,599.38 1146.50,599.05 1147.50,598.76 1148.50,598.50 1149.50,598.28 1150.50,598.09 1151.50,597.92 1152.50,597.78 1153.50,597.64 1154.50,597.53 1155.50,597.43 1156.50,597.33 1157.50,597.25 1158.50,597.17 1159.50,597.11 1160.50,597.04 1161.50,596.98 1162.50,596.93 1163.50,596.88 1164.50,596.84 1165.50,596.79 1166.50,596.75 1167.50,596.71 1168.50,596.67 1169.50,596.64 1170.50,596.61 1171.50,596.57 1172.50,596.54 1173.50,596.51 1174.50,596.48 1175.50,596.45 1176.50,596.43 1177.50,596.40 1178.50,596.37 1179.50,596.35 1180.50,596.32 1181.50,596.30 1182.50,596.27 1183.50,596.25 1184.50,596.23 1185.50,596.21 1186.50,596.18 1187.50,596.16 1188.50,596.14 1189.50,596.12 1190.50,596.10 1191.50,596.08 1192.50,596.06 1193.50,596.04 1194.50,596.02 1195.50,596.00 1196.50,595.99 1197.50,595.97 1198.50,595.95 1199.50,595.93 1200.50,595.92 1201.50,595.90 1202.50,595.88 1203.50,595.87 1204.50,595.85 1205.50,595.83 1206.50,595.82 1207.50,595.80 1208.50,595.79 1209.50,595.77 1210.50,595.76 1211.50,595.74 1212.50,595.73 1213.50,595.72 1214.50,595.70 1215.50,595.69 1216.50,595.68 1217.50,595.66 1218.50,595.65 1219.50,595.64 1220.50,595.63 1221.50,595.62 1222.50,595.60 1223.50,595.59 1224.50,595.58 1225.50,595.57 1226.50,595.56 1227.50,595.55 1228.50,595.54 1229.50,595.53 1230.50,595.52 1231.50,595.51 1232.50,595.50 1233.50,595.49 1234.50,595.48 1235.50,595.47 1236.50,595.46 1237.50,595.45 1238.50,595.44 1239.50,595.43 1240.50,595.42 1241.50,595.41 1242.50,595.40 1243.50,595.40 1244.50,595.39" fill="none" stroke="#111" stroke-width="1.1" stroke-linejoin="round"/>
<line x1="1244.80" y1="594.90" x2="1244.80" y2="541.60" stroke="#000" stroke-width="1.2"/>
<line x1="1244.80" y1="552.00" x2="1302.00" y2="552.00" stroke="#222" stroke-width="1.5"/>
<line x1="1133.00" y1="552.00" x2="1302.00" y2="552.00" stroke="#ff2020" stroke-width="1.2"/>
<path d="M1049.2,608 L1075.2,569.7 C1085,569 1094,575 1096.8,587.1 L1056,612.4 Z" fill="#c8c8c8" stroke="#000" stroke-width="1.2"/>
<ellipse cx="1032.6" cy="629.3" rx="31.7" ry="22.6" fill="#c8c8c8" stroke="#000" stroke-width="1.2"/>
<text x="1016.70" y="638.50" font-size="28" text-anchor="start" fill="#000">Cl</text>
<text x="1043.40" y="624.30" font-size="14" text-anchor="start" fill="#000">-</text>
<line x1="1239.50" y1="628.10" x2="1239.50" y2="675.20" stroke="#000" stroke-width="1.3"/>
<line x1="1182.70" y1="675.20" x2="1239.50" y2="675.20" stroke="#000" stroke-width="1.3"/>
<text x="1162.50" y="703.50" font-size="28.3" text-anchor="start" fill="#000">10 ms</text>
<text transform="translate(1246.5,656.2) rotate(90)" font-size="28.5" text-anchor="middle">1.0 nA</text>
</svg></body></html>
